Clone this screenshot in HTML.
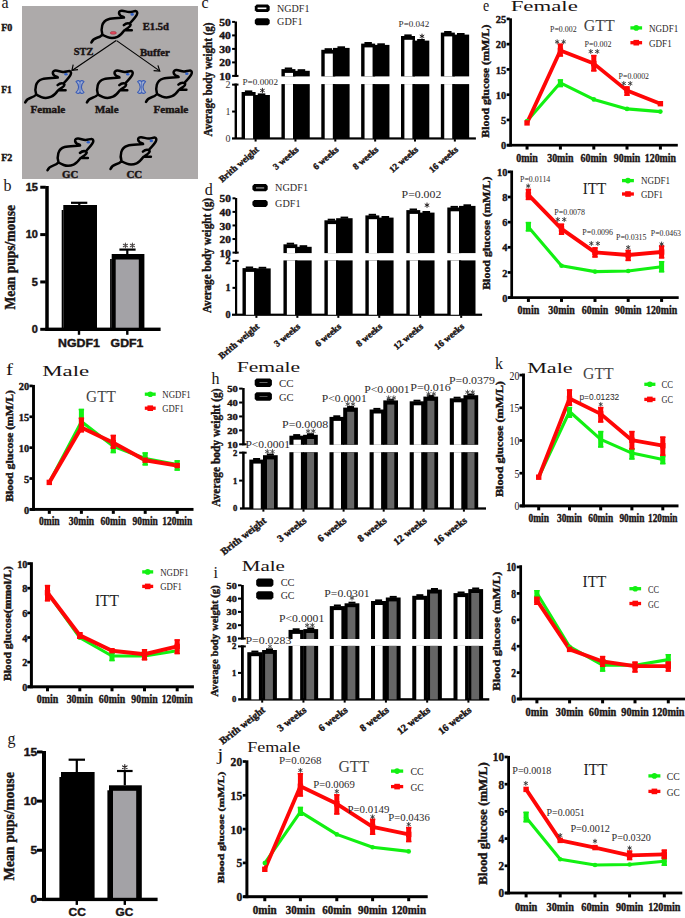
<!DOCTYPE html>
<html><head><meta charset="utf-8"><style>
html,body{margin:0;padding:0;background:#fff;}
body{width:685px;height:918px;overflow:hidden;}
svg{display:block;}
</style></head><body>
<svg width="685" height="918" viewBox="0 0 685 918">
<rect x="0" y="0" width="685" height="918" fill="#fff"/>
<text x="1.6" y="7.9" font-size="16" font-family='"Liberation Serif", serif' fill="#1a1414">a</text>
<rect x="22" y="6" width="176" height="173" fill="#adaaaa"/>
<text x="1.2" y="30.7" font-size="9.8" font-family='"Liberation Serif", serif' font-weight="bold" fill="#1a1414" stroke="#1a1414" stroke-width="0.4" textLength="11.2" lengthAdjust="spacingAndGlyphs">F0</text>
<text x="1.2" y="92.7" font-size="9.8" font-family='"Liberation Serif", serif' font-weight="bold" fill="#1a1414" stroke="#1a1414" stroke-width="0.4" textLength="10.6" lengthAdjust="spacingAndGlyphs">F1</text>
<text x="1.2" y="160.7" font-size="9.8" font-family='"Liberation Serif", serif' font-weight="bold" fill="#1a1414" stroke="#1a1414" stroke-width="0.4" textLength="11.2" lengthAdjust="spacingAndGlyphs">F2</text>
<path d="M91.4,42.5 C92.5,40 94.5,38.6 97,37.8 C99,37.2 101,36.2 102.4,34.6 C101.5,32 101.3,28.5 102.2,25.5 C103.2,22 105.5,20 108.5,19.2 C112,18.4 118,18.2 124,17.6 M123.6,17.0 C121.5,16.5 119.3,15.6 119.0,13.2 C118.9,11.5 120.3,10.6 122.0,10.7 C124.2,10.8 126.5,11.8 129.2,12.1 C131.5,12.3 133.6,11.0 135.6,11.1 C137.3,11.3 137.6,13.2 136.8,14.8 C136.0,16.6 133.5,19.5 130.0,23.2 M123.8,25.2 C125.5,23.6 128.3,23.0 130.2,23.8 C131.3,24.8 130.2,26.4 127.8,28.0 C126.2,29.0 124.8,29.9 124.6,30.3 L131.8,30.3 M124.4,30.3 C122.8,32.5 120.8,35.4 117.5,36.8 C114.5,38.1 110.5,38.3 107.6,37.2 C105.5,36.4 103.6,35.6 102.4,34.6" fill="none" stroke="#000" stroke-width="2.5" transform="translate(0 0)" stroke-linecap="round" stroke-linejoin="round"/>
<ellipse cx="132.2" cy="14.4" rx="1.7" ry="1.3" fill="#3060c8"/>
<ellipse cx="113.3" cy="32.9" rx="3.1" ry="1.45" fill="#e2465a" stroke="#7a2028" stroke-width="0.4"/>
<path d="M91.4,42.5 C92.5,40 94.5,38.6 97,37.8 C99,37.2 101,36.2 102.4,34.6 C101.5,32 101.3,28.5 102.2,25.5 C103.2,22 105.5,20 108.5,19.2 C112,18.4 118,18.2 124,17.6 M123.6,17.0 C121.5,16.5 119.3,15.6 119.0,13.2 C118.9,11.5 120.3,10.6 122.0,10.7 C124.2,10.8 126.5,11.8 129.2,12.1 C131.5,12.3 133.6,11.0 135.6,11.1 C137.3,11.3 137.6,13.2 136.8,14.8 C136.0,16.6 133.5,19.5 130.0,23.2 M123.8,25.2 C125.5,23.6 128.3,23.0 130.2,23.8 C131.3,24.8 130.2,26.4 127.8,28.0 C126.2,29.0 124.8,29.9 124.6,30.3 L131.8,30.3 M124.4,30.3 C122.8,32.5 120.8,35.4 117.5,36.8 C114.5,38.1 110.5,38.3 107.6,37.2 C105.5,36.4 103.6,35.6 102.4,34.6" fill="none" stroke="#000" stroke-width="2.5" transform="translate(-66.2 59.9)" stroke-linecap="round" stroke-linejoin="round"/>
<ellipse cx="66" cy="74.3" rx="1.7" ry="1.3" fill="#3060c8"/>
<path d="M91.4,42.5 C92.5,40 94.5,38.6 97,37.8 C99,37.2 101,36.2 102.4,34.6 C101.5,32 101.3,28.5 102.2,25.5 C103.2,22 105.5,20 108.5,19.2 C112,18.4 118,18.2 124,17.6 M123.6,17.0 C121.5,16.5 119.3,15.6 119.0,13.2 C118.9,11.5 120.3,10.6 122.0,10.7 C124.2,10.8 126.5,11.8 129.2,12.1 C131.5,12.3 133.6,11.0 135.6,11.1 C137.3,11.3 137.6,13.2 136.8,14.8 C136.0,16.6 133.5,19.5 130.0,23.2 M123.8,25.2 C125.5,23.6 128.3,23.0 130.2,23.8 C131.3,24.8 130.2,26.4 127.8,28.0 C126.2,29.0 124.8,29.9 124.6,30.3 L131.8,30.3 M124.4,30.3 C122.8,32.5 120.8,35.4 117.5,36.8 C114.5,38.1 110.5,38.3 107.6,37.2 C105.5,36.4 103.6,35.6 102.4,34.6" fill="none" stroke="#000" stroke-width="2.5" transform="translate(-4.5 59.9)" stroke-linecap="round" stroke-linejoin="round"/>
<ellipse cx="127.7" cy="74.3" rx="1.7" ry="1.3" fill="#3060c8"/>
<path d="M91.4,42.5 C92.5,40 94.5,38.6 97,37.8 C99,37.2 101,36.2 102.4,34.6 C101.5,32 101.3,28.5 102.2,25.5 C103.2,22 105.5,20 108.5,19.2 C112,18.4 118,18.2 124,17.6 M123.6,17.0 C121.5,16.5 119.3,15.6 119.0,13.2 C118.9,11.5 120.3,10.6 122.0,10.7 C124.2,10.8 126.5,11.8 129.2,12.1 C131.5,12.3 133.6,11.0 135.6,11.1 C137.3,11.3 137.6,13.2 136.8,14.8 C136.0,16.6 133.5,19.5 130.0,23.2 M123.8,25.2 C125.5,23.6 128.3,23.0 130.2,23.8 C131.3,24.8 130.2,26.4 127.8,28.0 C126.2,29.0 124.8,29.9 124.6,30.3 L131.8,30.3 M124.4,30.3 C122.8,32.5 120.8,35.4 117.5,36.8 C114.5,38.1 110.5,38.3 107.6,37.2 C105.5,36.4 103.6,35.6 102.4,34.6" fill="none" stroke="#000" stroke-width="2.5" transform="translate(54.6 59.4)" stroke-linecap="round" stroke-linejoin="round"/>
<ellipse cx="186.8" cy="73.8" rx="1.7" ry="1.3" fill="#3060c8"/>
<path d="M91.4,42.5 C92.5,40 94.5,38.6 97,37.8 C99,37.2 101,36.2 102.4,34.6 C101.5,32 101.3,28.5 102.2,25.5 C103.2,22 105.5,20 108.5,19.2 C112,18.4 118,18.2 124,17.6 M123.6,17.0 C121.5,16.5 119.3,15.6 119.0,13.2 C118.9,11.5 120.3,10.6 122.0,10.7 C124.2,10.8 126.5,11.8 129.2,12.1 C131.5,12.3 133.6,11.0 135.6,11.1 C137.3,11.3 137.6,13.2 136.8,14.8 C136.0,16.6 133.5,19.5 130.0,23.2 M123.8,25.2 C125.5,23.6 128.3,23.0 130.2,23.8 C131.3,24.8 130.2,26.4 127.8,28.0 C126.2,29.0 124.8,29.9 124.6,30.3 L131.8,30.3 M124.4,30.3 C122.8,32.5 120.8,35.4 117.5,36.8 C114.5,38.1 110.5,38.3 107.6,37.2 C105.5,36.4 103.6,35.6 102.4,34.6" fill="none" stroke="#000" stroke-width="2.5" transform="translate(-43.9 127.8)" stroke-linecap="round" stroke-linejoin="round"/>
<ellipse cx="88.3" cy="142.2" rx="1.7" ry="1.3" fill="#3060c8"/>
<path d="M91.4,42.5 C92.5,40 94.5,38.6 97,37.8 C99,37.2 101,36.2 102.4,34.6 C101.5,32 101.3,28.5 102.2,25.5 C103.2,22 105.5,20 108.5,19.2 C112,18.4 118,18.2 124,17.6 M123.6,17.0 C121.5,16.5 119.3,15.6 119.0,13.2 C118.9,11.5 120.3,10.6 122.0,10.7 C124.2,10.8 126.5,11.8 129.2,12.1 C131.5,12.3 133.6,11.0 135.6,11.1 C137.3,11.3 137.6,13.2 136.8,14.8 C136.0,16.6 133.5,19.5 130.0,23.2 M123.8,25.2 C125.5,23.6 128.3,23.0 130.2,23.8 C131.3,24.8 130.2,26.4 127.8,28.0 C126.2,29.0 124.8,29.9 124.6,30.3 L131.8,30.3 M124.4,30.3 C122.8,32.5 120.8,35.4 117.5,36.8 C114.5,38.1 110.5,38.3 107.6,37.2 C105.5,36.4 103.6,35.6 102.4,34.6" fill="none" stroke="#000" stroke-width="2.5" transform="translate(19.1 126.5)" stroke-linecap="round" stroke-linejoin="round"/>
<ellipse cx="151.3" cy="140.9" rx="1.7" ry="1.3" fill="#3060c8"/>
<line x1="116.2" y1="40.6" x2="72.4" y2="70.2" stroke="#000" stroke-width="1.15" stroke-linecap="butt"/>
<line x1="116.6" y1="40.6" x2="159.6" y2="70.9" stroke="#000" stroke-width="1.15" stroke-linecap="butt"/>
<path d="M73.2,64.6 L71.9,70.4 L78.0,69.6" fill="none" stroke="#000" stroke-width="1.15"/>
<path d="M153.6,70.6 L159.8,71.1 L157.9,65.4" fill="none" stroke="#000" stroke-width="1.15"/>
<path d="M76,81.6  C77.8,80 79.4,80.4 80,81.8  C80.6,80.4 82.2,80 84,81.6  C80.5,84.5 80.5,89.5 84,92.4  C82.2,94 80.6,93.6 80,92.2  C79.4,93.6 77.8,94 76,92.4  C79.5,89.5 79.5,84.5 76,81.6 Z" fill="#a3b0d2" stroke="#3a5cb6" stroke-width="1.15" stroke-linejoin="round"/>
<line x1="80" y1="82" x2="80" y2="92" stroke="#4a68b8" stroke-width="0.8" stroke-linecap="butt"/>
<path d="M137.6,81.6  C139.4,80 141,80.4 141.6,81.8  C142.2,80.4 143.8,80 145.6,81.6  C142.1,84.5 142.1,89.5 145.6,92.4  C143.8,94 142.2,93.6 141.6,92.2  C141,93.6 139.4,94 137.6,92.4  C141.1,89.5 141.1,84.5 137.6,81.6 Z" fill="#a3b0d2" stroke="#3a5cb6" stroke-width="1.15" stroke-linejoin="round"/>
<line x1="141.6" y1="82" x2="141.6" y2="92" stroke="#4a68b8" stroke-width="0.8" stroke-linecap="butt"/>
<text x="142.8" y="29.9" font-size="10" font-family='"Liberation Serif", serif' font-weight="bold" fill="#1a1414" stroke="#1a1414" stroke-width="0.4" textLength="26.2" lengthAdjust="spacingAndGlyphs">E1.5d</text>
<text x="73.7" y="55.2" font-size="10" font-family='"Liberation Serif", serif' font-weight="bold" fill="#1a1414" stroke="#1a1414" stroke-width="0.4" textLength="19.7" lengthAdjust="spacingAndGlyphs">STZ</text>
<text x="139.9" y="55.5" font-size="10" font-family='"Liberation Serif", serif' font-weight="bold" fill="#1a1414" stroke="#1a1414" stroke-width="0.4" textLength="29.9" lengthAdjust="spacingAndGlyphs">Buffer</text>
<text x="30.5" y="112.9" font-size="9.8" font-family='"Liberation Serif", serif' font-weight="bold" fill="#1a1414" stroke="#1a1414" stroke-width="0.4" textLength="34.7" lengthAdjust="spacingAndGlyphs">Female</text>
<text x="94.9" y="112.9" font-size="9.8" font-family='"Liberation Serif", serif' font-weight="bold" fill="#1a1414" stroke="#1a1414" stroke-width="0.4" textLength="23.6" lengthAdjust="spacingAndGlyphs">Male</text>
<text x="153.5" y="112.9" font-size="9.8" font-family='"Liberation Serif", serif' font-weight="bold" fill="#1a1414" stroke="#1a1414" stroke-width="0.4" textLength="34.8" lengthAdjust="spacingAndGlyphs">Female</text>
<text x="62" y="178" font-size="9.8" font-family='"Liberation Serif", serif' font-weight="bold" fill="#1a1414" stroke="#1a1414" stroke-width="0.4" textLength="16.2" lengthAdjust="spacingAndGlyphs">GC</text>
<text x="126.4" y="178" font-size="9.8" font-family='"Liberation Serif", serif' font-weight="bold" fill="#1a1414" stroke="#1a1414" stroke-width="0.4" textLength="15.8" lengthAdjust="spacingAndGlyphs">CC</text>
<text x="3.6" y="191" font-size="16" font-family='"Liberation Serif", serif' fill="#1a1414">b</text>
<rect x="45.25" y="186" width="3.5" height="144.9" fill="#000"/>
<rect x="45.25" y="327.6" width="115.35" height="3.4" fill="#000"/>
<rect x="40.25" y="327.8" width="5.5" height="3" fill="#000"/>
<text x="37.9" y="332.9" font-size="10" font-family='"Liberation Sans", sans-serif' font-weight="bold" fill="#1a1414" stroke="#1a1414" stroke-width="0.4" text-anchor="end" textLength="6.1" lengthAdjust="spacingAndGlyphs">0</text>
<rect x="40.25" y="280.45" width="5.5" height="3" fill="#000"/>
<text x="37.9" y="285.55" font-size="10" font-family='"Liberation Sans", sans-serif' font-weight="bold" fill="#1a1414" stroke="#1a1414" stroke-width="0.4" text-anchor="end" textLength="6.1" lengthAdjust="spacingAndGlyphs">5</text>
<rect x="40.25" y="233.1" width="5.5" height="3" fill="#000"/>
<text x="37.9" y="238.2" font-size="10" font-family='"Liberation Sans", sans-serif' font-weight="bold" fill="#1a1414" stroke="#1a1414" stroke-width="0.4" text-anchor="end" textLength="12.2" lengthAdjust="spacingAndGlyphs">10</text>
<rect x="40.25" y="185.75" width="5.5" height="3" fill="#000"/>
<text x="37.9" y="190.85" font-size="10" font-family='"Liberation Sans", sans-serif' font-weight="bold" fill="#1a1414" stroke="#1a1414" stroke-width="0.4" text-anchor="end" textLength="12.2" lengthAdjust="spacingAndGlyphs">15</text>
<rect x="63.3" y="205" width="33.7" height="124.3" fill="#000"/>
<rect x="61.7" y="210" width="1.7" height="119.3" fill="#000"/>
<rect x="111.7" y="254" width="32.7" height="75.3" fill="#000"/>
<rect x="110.1" y="259" width="1.7" height="70.3" fill="#000"/>
<rect x="115.7" y="259.5" width="23.1" height="68.2" fill="#a3a2a6"/>
<rect x="78.2" y="202.8" width="2.2" height="2.2" fill="#000"/>
<rect x="71" y="201.7" width="16.3" height="2.2" fill="#000"/>
<rect x="126.2" y="249.6" width="2.2" height="4.4" fill="#000"/>
<rect x="119.4" y="248.5" width="16.2" height="2.2" fill="#000"/>
<rect x="77.8" y="329.3" width="2.4" height="5.5" fill="#000"/>
<rect x="126.1" y="329.3" width="2.4" height="5.5" fill="#000"/>
<text x="58" y="346.6" font-size="10.5" font-family='"Liberation Sans", sans-serif' font-weight="bold" fill="#1a1414" stroke="#1a1414" stroke-width="0.4" textLength="41.8" lengthAdjust="spacingAndGlyphs">NGDF1</text>
<text x="110.6" y="346.6" font-size="10.5" font-family='"Liberation Sans", sans-serif' font-weight="bold" fill="#1a1414" stroke="#1a1414" stroke-width="0.4" textLength="32.8" lengthAdjust="spacingAndGlyphs">GDF1</text>
<text transform="translate(14.8 257.3) rotate(-90)" font-size="15" font-family='"Liberation Serif", serif' font-weight="bold" fill="#1a1414" stroke="#1a1414" stroke-width="0.4" text-anchor="middle" textLength="104.6" lengthAdjust="spacingAndGlyphs">Mean pups/mouse</text>
<path d="M125.4,243.1L125.4,247.9M123.32,244.3L127.48,246.7M127.48,244.3L123.32,246.7" stroke="#4a4545" stroke-width="1.02" stroke-linecap="round"/>
<path d="M132.4,243.1L132.4,247.9M130.32,244.3L134.48,246.7M134.48,244.3L130.32,246.7" stroke="#4a4545" stroke-width="1.02" stroke-linecap="round"/>
<text x="7.5" y="743.5" font-size="16" font-family='"Liberation Serif", serif' fill="#1a1414">g</text>
<rect x="42" y="751" width="4" height="150" fill="#000"/>
<rect x="42" y="897.7" width="115.6" height="3.4" fill="#000"/>
<rect x="37" y="897.9" width="5.5" height="3" fill="#000"/>
<text x="37.2" y="903" font-size="10" font-family='"Liberation Sans", sans-serif' font-weight="bold" fill="#1a1414" stroke="#1a1414" stroke-width="0.4" text-anchor="end" textLength="6.7" lengthAdjust="spacingAndGlyphs">0</text>
<rect x="37" y="848.75" width="5.5" height="3" fill="#000"/>
<text x="37.2" y="853.85" font-size="10" font-family='"Liberation Sans", sans-serif' font-weight="bold" fill="#1a1414" stroke="#1a1414" stroke-width="0.4" text-anchor="end" textLength="6.7" lengthAdjust="spacingAndGlyphs">5</text>
<rect x="37" y="799.6" width="5.5" height="3" fill="#000"/>
<text x="37.2" y="804.7" font-size="10" font-family='"Liberation Sans", sans-serif' font-weight="bold" fill="#1a1414" stroke="#1a1414" stroke-width="0.4" text-anchor="end" textLength="13.4" lengthAdjust="spacingAndGlyphs">10</text>
<rect x="37" y="750.45" width="5.5" height="3" fill="#000"/>
<text x="37.2" y="755.55" font-size="10" font-family='"Liberation Sans", sans-serif' font-weight="bold" fill="#1a1414" stroke="#1a1414" stroke-width="0.4" text-anchor="end" textLength="13.4" lengthAdjust="spacingAndGlyphs">15</text>
<rect x="61" y="772" width="33.6" height="127.4" fill="#000"/>
<rect x="59.4" y="777" width="1.7" height="122.4" fill="#000"/>
<rect x="109" y="785.3" width="32.8" height="114.1" fill="#000"/>
<rect x="107.4" y="790.3" width="1.7" height="109.1" fill="#000"/>
<rect x="113" y="790.8" width="23.2" height="107" fill="#a3a2a6"/>
<rect x="75.7" y="759.7" width="2.2" height="12.3" fill="#000"/>
<rect x="68.6" y="758.6" width="16.4" height="2.2" fill="#000"/>
<rect x="123.7" y="771" width="2.2" height="14.3" fill="#000"/>
<rect x="117" y="769.9" width="15.6" height="2.2" fill="#000"/>
<rect x="75.6" y="899.4" width="2.4" height="5.5" fill="#000"/>
<rect x="123.6" y="899.4" width="2.4" height="5.5" fill="#000"/>
<text x="68.6" y="916.4" font-size="10.5" font-family='"Liberation Sans", sans-serif' font-weight="bold" fill="#1a1414" stroke="#1a1414" stroke-width="0.4" textLength="17.4" lengthAdjust="spacingAndGlyphs">CC</text>
<text x="115.6" y="916.4" font-size="10.5" font-family='"Liberation Sans", sans-serif' font-weight="bold" fill="#1a1414" stroke="#1a1414" stroke-width="0.4" textLength="17.8" lengthAdjust="spacingAndGlyphs">GC</text>
<text transform="translate(13.8 826.3) rotate(-90)" font-size="15.5" font-family='"Liberation Serif", serif' font-weight="bold" fill="#1a1414" stroke="#1a1414" stroke-width="0.4" text-anchor="middle" textLength="108.5" lengthAdjust="spacingAndGlyphs">Mean pups/mouse</text>
<path d="M124.8,764.6L124.8,769.8M122.55,765.9L127.05,768.5M127.05,765.9L122.55,768.5" stroke="#2a2525" stroke-width="1.1" stroke-linecap="round"/>
<text x="201.4" y="7.6" font-size="16" font-family='"Liberation Serif", serif' fill="#1a1414">c</text>
<rect x="234.6" y="21.5" width="2.4" height="55.4" fill="#000"/>
<rect x="234.6" y="83.6" width="2.4" height="54.85" fill="#000"/>
<rect x="232.1" y="74.9" width="3" height="2" fill="#000"/>
<text x="230.9" y="79.97" font-size="10.2" font-family='"Liberation Serif", serif' font-weight="bold" fill="#1a1414" stroke="#1a1414" stroke-width="0.4" text-anchor="end" textLength="11.6" lengthAdjust="spacingAndGlyphs">10</text>
<rect x="232.1" y="61.4" width="3" height="2" fill="#000"/>
<text x="230.9" y="66.47" font-size="10.2" font-family='"Liberation Serif", serif' font-weight="bold" fill="#1a1414" stroke="#1a1414" stroke-width="0.4" text-anchor="end" textLength="11.6" lengthAdjust="spacingAndGlyphs">20</text>
<rect x="232.1" y="47.9" width="3" height="2" fill="#000"/>
<text x="230.9" y="52.97" font-size="10.2" font-family='"Liberation Serif", serif' font-weight="bold" fill="#1a1414" stroke="#1a1414" stroke-width="0.4" text-anchor="end" textLength="11.6" lengthAdjust="spacingAndGlyphs">30</text>
<rect x="232.1" y="34.4" width="3" height="2" fill="#000"/>
<text x="230.9" y="39.47" font-size="10.2" font-family='"Liberation Serif", serif' font-weight="bold" fill="#1a1414" stroke="#1a1414" stroke-width="0.4" text-anchor="end" textLength="11.6" lengthAdjust="spacingAndGlyphs">40</text>
<rect x="232.1" y="20.9" width="3" height="2" fill="#000"/>
<text x="230.9" y="25.97" font-size="10.2" font-family='"Liberation Serif", serif' font-weight="bold" fill="#1a1414" stroke="#1a1414" stroke-width="0.4" text-anchor="end" textLength="11.6" lengthAdjust="spacingAndGlyphs">50</text>
<rect x="234.6" y="74.9" width="3.9" height="2" fill="#000"/>
<rect x="234.6" y="83.6" width="3.9" height="2" fill="#000"/>
<text x="230.6" y="141.85" font-size="10" font-family='"Liberation Serif", serif' fill="#3a3535" text-anchor="end">0</text>
<rect x="232.1" y="110.55" width="3" height="2" fill="#000"/>
<text x="230.6" y="114.95" font-size="10" font-family='"Liberation Serif", serif' fill="#3a3535" text-anchor="end">1</text>
<rect x="232.1" y="83.65" width="3" height="2" fill="#000"/>
<text x="230.6" y="88.05" font-size="10" font-family='"Liberation Serif", serif' fill="#3a3535" text-anchor="end">2</text>
<rect x="232" y="137.35" width="243.9" height="2.2" fill="#000"/>
<rect x="241.6" y="92" width="14" height="46.45" fill="#000"/>
<rect x="245" y="95.8" width="8.2" height="42.65" fill="#fff"/>
<rect x="244.9" y="90.4" width="7.4" height="2" fill="#000"/>
<rect x="253.2" y="95" width="16.7" height="43.45" fill="#000"/>
<rect x="257.75" y="93.4" width="7.6" height="2" fill="#000"/>
<rect x="254.6" y="139.05" width="2" height="2.5" fill="#000"/>
<rect x="281.45" y="69.1" width="14" height="7.3" fill="#000"/>
<rect x="284.85" y="72.9" width="8.2" height="3.5" fill="#fff"/>
<rect x="281.45" y="84.1" width="14" height="54.35" fill="#000"/>
<rect x="284.85" y="84.1" width="8.2" height="54.35" fill="#fff"/>
<rect x="284.75" y="67.5" width="7.4" height="2" fill="#000"/>
<rect x="293.05" y="70.8" width="16.7" height="5.6" fill="#000"/>
<rect x="293.05" y="84.1" width="16.7" height="54.35" fill="#000"/>
<rect x="297.6" y="69.2" width="7.6" height="2" fill="#000"/>
<rect x="294.45" y="139.05" width="2" height="2.5" fill="#000"/>
<rect x="321.3" y="49.8" width="14" height="26.6" fill="#000"/>
<rect x="324.7" y="53.6" width="8.2" height="22.8" fill="#fff"/>
<rect x="321.3" y="84.1" width="14" height="54.35" fill="#000"/>
<rect x="324.7" y="84.1" width="8.2" height="54.35" fill="#fff"/>
<rect x="324.6" y="48.2" width="7.4" height="2" fill="#000"/>
<rect x="332.9" y="47.9" width="16.7" height="28.5" fill="#000"/>
<rect x="332.9" y="84.1" width="16.7" height="54.35" fill="#000"/>
<rect x="337.45" y="46.3" width="7.6" height="2" fill="#000"/>
<rect x="334.3" y="139.05" width="2" height="2.5" fill="#000"/>
<rect x="361.15" y="43.6" width="14" height="32.8" fill="#000"/>
<rect x="364.55" y="47.4" width="8.2" height="29" fill="#fff"/>
<rect x="361.15" y="84.1" width="14" height="54.35" fill="#000"/>
<rect x="364.55" y="84.1" width="8.2" height="54.35" fill="#fff"/>
<rect x="364.45" y="42" width="7.4" height="2" fill="#000"/>
<rect x="372.75" y="44.9" width="16.7" height="31.5" fill="#000"/>
<rect x="372.75" y="84.1" width="16.7" height="54.35" fill="#000"/>
<rect x="377.3" y="43.3" width="7.6" height="2" fill="#000"/>
<rect x="374.15" y="139.05" width="2" height="2.5" fill="#000"/>
<rect x="401" y="36" width="14" height="40.4" fill="#000"/>
<rect x="404.4" y="39.8" width="8.2" height="36.6" fill="#fff"/>
<rect x="401" y="84.1" width="14" height="54.35" fill="#000"/>
<rect x="404.4" y="84.1" width="8.2" height="54.35" fill="#fff"/>
<rect x="404.3" y="34.4" width="7.4" height="2" fill="#000"/>
<rect x="412.6" y="40.6" width="16.7" height="35.8" fill="#000"/>
<rect x="412.6" y="84.1" width="16.7" height="54.35" fill="#000"/>
<rect x="417.15" y="39" width="7.6" height="2" fill="#000"/>
<rect x="414" y="139.05" width="2" height="2.5" fill="#000"/>
<rect x="440.85" y="32.6" width="14" height="43.8" fill="#000"/>
<rect x="444.25" y="36.4" width="8.2" height="40" fill="#fff"/>
<rect x="440.85" y="84.1" width="14" height="54.35" fill="#000"/>
<rect x="444.25" y="84.1" width="8.2" height="54.35" fill="#fff"/>
<rect x="444.15" y="31" width="7.4" height="2" fill="#000"/>
<rect x="452.45" y="34.6" width="16.7" height="41.8" fill="#000"/>
<rect x="452.45" y="84.1" width="16.7" height="54.35" fill="#000"/>
<rect x="457" y="33" width="7.6" height="2" fill="#000"/>
<rect x="453.85" y="139.05" width="2" height="2.5" fill="#000"/>
<path d="M256.6,4.6 L267.9,4.6 L269.7,6.4 L269.7,10.3 L267.9,12.1 L256.6,12.1 L254.8,10.3 L254.8,6.4 Z" fill="#000"/>
<rect x="257.6" y="7.5" width="8.8" height="1.6" fill="#fff"/>
<path d="M256.6,18.2 L267.9,18.2 L269.7,20 L269.7,23.4 L267.9,25.2 L256.6,25.2 L254.8,23.4 L254.8,20 Z" fill="#000"/>
<text x="277.1" y="11.7" font-size="9.8" font-family='"Liberation Serif", serif' fill="#2e2a2a" textLength="32.4" lengthAdjust="spacingAndGlyphs">NGDF1</text>
<text x="277.1" y="24.9" font-size="9.8" font-family='"Liberation Serif", serif' fill="#2e2a2a" textLength="25.4" lengthAdjust="spacingAndGlyphs">GDF1</text>
<text x="242.5" y="84.7" font-size="8.8" font-family='"Liberation Serif", serif' fill="#2e2a2a" textLength="35.5" lengthAdjust="spacingAndGlyphs">P=0.0002</text>
<text x="398.6" y="26.6" font-size="8.8" font-family='"Liberation Serif", serif' fill="#2e2a2a" textLength="30.6" lengthAdjust="spacingAndGlyphs">P=0.042</text>
<path d="M262.4,88.3L262.4,92.7M260.49,89.4L264.31,91.6M264.31,89.4L260.49,91.6" stroke="#1a1414" stroke-width="0.94" stroke-linecap="round"/>
<path d="M422,34.1L422,38.5M420.09,35.2L423.91,37.4M423.91,35.2L420.09,37.4" stroke="#1a1414" stroke-width="0.94" stroke-linecap="round"/>
<text transform="translate(211.8 79.5) rotate(-90)" font-size="11.5" font-family='"Liberation Serif", serif' font-weight="bold" fill="#1a1414" stroke="#1a1414" stroke-width="0.4" text-anchor="middle" textLength="114" lengthAdjust="spacingAndGlyphs">Average body weight (g)</text>
<text transform="translate(259.4 150.4) rotate(-41)" font-size="9.2" font-family='"Liberation Serif", serif' font-weight="bold" fill="#1a1414" stroke="#1a1414" stroke-width="0.4" text-anchor="end" textLength="49.32" lengthAdjust="spacingAndGlyphs">Brith weight</text>
<text transform="translate(299.25 150.4) rotate(-41)" font-size="9.2" font-family='"Liberation Serif", serif' font-weight="bold" fill="#1a1414" stroke="#1a1414" stroke-width="0.4" text-anchor="end" textLength="30.41" lengthAdjust="spacingAndGlyphs">3 weeks</text>
<text transform="translate(339.1 150.4) rotate(-41)" font-size="9.2" font-family='"Liberation Serif", serif' font-weight="bold" fill="#1a1414" stroke="#1a1414" stroke-width="0.4" text-anchor="end" textLength="30.41" lengthAdjust="spacingAndGlyphs">6 weeks</text>
<text transform="translate(378.95 150.4) rotate(-41)" font-size="9.2" font-family='"Liberation Serif", serif' font-weight="bold" fill="#1a1414" stroke="#1a1414" stroke-width="0.4" text-anchor="end" textLength="30.41" lengthAdjust="spacingAndGlyphs">8 weeks</text>
<text transform="translate(418.8 150.4) rotate(-41)" font-size="9.2" font-family='"Liberation Serif", serif' font-weight="bold" fill="#1a1414" stroke="#1a1414" stroke-width="0.4" text-anchor="end" textLength="35.01" lengthAdjust="spacingAndGlyphs">12 weeks</text>
<text transform="translate(458.65 150.4) rotate(-41)" font-size="9.2" font-family='"Liberation Serif", serif' font-weight="bold" fill="#1a1414" stroke="#1a1414" stroke-width="0.4" text-anchor="end" textLength="35.01" lengthAdjust="spacingAndGlyphs">16 weeks</text>
<text x="204.7" y="194.9" font-size="16" font-family='"Liberation Serif", serif' fill="#1a1414">d</text>
<rect x="235" y="198" width="2.2" height="55.6" fill="#000"/>
<rect x="235" y="259.9" width="2.2" height="54.85" fill="#000"/>
<rect x="232.5" y="251.6" width="3" height="2" fill="#000"/>
<text x="230.9" y="256.67" font-size="10.2" font-family='"Liberation Serif", serif' font-weight="bold" fill="#1a1414" stroke="#1a1414" stroke-width="0.4" text-anchor="end" textLength="11.4" lengthAdjust="spacingAndGlyphs">10</text>
<rect x="232.5" y="238.03" width="3" height="2" fill="#000"/>
<text x="230.9" y="243.09" font-size="10.2" font-family='"Liberation Serif", serif' font-weight="bold" fill="#1a1414" stroke="#1a1414" stroke-width="0.4" text-anchor="end" textLength="11.4" lengthAdjust="spacingAndGlyphs">20</text>
<rect x="232.5" y="224.45" width="3" height="2" fill="#000"/>
<text x="230.9" y="229.52" font-size="10.2" font-family='"Liberation Serif", serif' font-weight="bold" fill="#1a1414" stroke="#1a1414" stroke-width="0.4" text-anchor="end" textLength="11.4" lengthAdjust="spacingAndGlyphs">30</text>
<rect x="232.5" y="210.88" width="3" height="2" fill="#000"/>
<text x="230.9" y="215.94" font-size="10.2" font-family='"Liberation Serif", serif' font-weight="bold" fill="#1a1414" stroke="#1a1414" stroke-width="0.4" text-anchor="end" textLength="11.4" lengthAdjust="spacingAndGlyphs">40</text>
<rect x="232.5" y="197.3" width="3" height="2" fill="#000"/>
<text x="230.9" y="202.37" font-size="10.2" font-family='"Liberation Serif", serif' font-weight="bold" fill="#1a1414" stroke="#1a1414" stroke-width="0.4" text-anchor="end" textLength="11.4" lengthAdjust="spacingAndGlyphs">50</text>
<rect x="235" y="251.6" width="3.7" height="2" fill="#000"/>
<rect x="235" y="259.9" width="3.7" height="2" fill="#000"/>
<text x="230.6" y="318.22" font-size="10.2" font-family='"Liberation Serif", serif' font-weight="bold" fill="#1a1414" stroke="#1a1414" stroke-width="0.4" text-anchor="end">0</text>
<rect x="232.5" y="286.85" width="3" height="2" fill="#000"/>
<text x="230.6" y="291.32" font-size="10.2" font-family='"Liberation Serif", serif' font-weight="bold" fill="#1a1414" stroke="#1a1414" stroke-width="0.4" text-anchor="end">1</text>
<rect x="232.5" y="259.95" width="3" height="2" fill="#000"/>
<text x="230.6" y="264.42" font-size="10.2" font-family='"Liberation Serif", serif' font-weight="bold" fill="#1a1414" stroke="#1a1414" stroke-width="0.4" text-anchor="end">2</text>
<rect x="232" y="313.65" width="250.1" height="2.2" fill="#000"/>
<rect x="242.5" y="268.1" width="13.9" height="46.65" fill="#000"/>
<rect x="245.9" y="271.9" width="8.3" height="42.85" fill="#fff"/>
<rect x="245.75" y="266.5" width="7.4" height="2" fill="#000"/>
<rect x="254.2" y="268.4" width="16.5" height="46.35" fill="#000"/>
<rect x="258.65" y="266.8" width="7.6" height="2" fill="#000"/>
<rect x="255.4" y="315.35" width="2" height="2.5" fill="#000"/>
<rect x="283.46" y="244.3" width="13.9" height="8.8" fill="#000"/>
<rect x="286.86" y="248.1" width="8.3" height="5" fill="#fff"/>
<rect x="283.46" y="260.4" width="13.9" height="54.35" fill="#000"/>
<rect x="286.86" y="260.4" width="8.3" height="54.35" fill="#fff"/>
<rect x="286.71" y="242.7" width="7.4" height="2" fill="#000"/>
<rect x="295.16" y="246.8" width="16.5" height="6.3" fill="#000"/>
<rect x="295.16" y="260.4" width="16.5" height="54.35" fill="#000"/>
<rect x="299.61" y="245.2" width="7.6" height="2" fill="#000"/>
<rect x="296.36" y="315.35" width="2" height="2.5" fill="#000"/>
<rect x="324.42" y="220.3" width="13.9" height="32.8" fill="#000"/>
<rect x="327.82" y="224.1" width="8.3" height="29" fill="#fff"/>
<rect x="324.42" y="260.4" width="13.9" height="54.35" fill="#000"/>
<rect x="327.82" y="260.4" width="8.3" height="54.35" fill="#fff"/>
<rect x="327.67" y="218.7" width="7.4" height="2" fill="#000"/>
<rect x="336.12" y="218.2" width="16.5" height="34.9" fill="#000"/>
<rect x="336.12" y="260.4" width="16.5" height="54.35" fill="#000"/>
<rect x="340.57" y="216.6" width="7.6" height="2" fill="#000"/>
<rect x="337.32" y="315.35" width="2" height="2.5" fill="#000"/>
<rect x="365.38" y="215.4" width="13.9" height="37.7" fill="#000"/>
<rect x="368.78" y="219.2" width="8.3" height="33.9" fill="#fff"/>
<rect x="365.38" y="260.4" width="13.9" height="54.35" fill="#000"/>
<rect x="368.78" y="260.4" width="8.3" height="54.35" fill="#fff"/>
<rect x="368.63" y="213.8" width="7.4" height="2" fill="#000"/>
<rect x="377.08" y="217.6" width="16.5" height="35.5" fill="#000"/>
<rect x="377.08" y="260.4" width="16.5" height="54.35" fill="#000"/>
<rect x="381.53" y="216" width="7.6" height="2" fill="#000"/>
<rect x="378.28" y="315.35" width="2" height="2.5" fill="#000"/>
<rect x="406.34" y="210.1" width="13.9" height="43" fill="#000"/>
<rect x="409.74" y="213.9" width="8.3" height="39.2" fill="#fff"/>
<rect x="406.34" y="260.4" width="13.9" height="54.35" fill="#000"/>
<rect x="409.74" y="260.4" width="8.3" height="54.35" fill="#fff"/>
<rect x="409.59" y="208.5" width="7.4" height="2" fill="#000"/>
<rect x="418.04" y="212.6" width="16.5" height="40.5" fill="#000"/>
<rect x="418.04" y="260.4" width="16.5" height="54.35" fill="#000"/>
<rect x="422.49" y="211" width="7.6" height="2" fill="#000"/>
<rect x="419.24" y="315.35" width="2" height="2.5" fill="#000"/>
<rect x="447.3" y="207.5" width="13.9" height="45.6" fill="#000"/>
<rect x="450.7" y="211.3" width="8.3" height="41.8" fill="#fff"/>
<rect x="447.3" y="260.4" width="13.9" height="54.35" fill="#000"/>
<rect x="450.7" y="260.4" width="8.3" height="54.35" fill="#fff"/>
<rect x="450.55" y="205.9" width="7.4" height="2" fill="#000"/>
<rect x="459" y="205.9" width="16.5" height="47.2" fill="#000"/>
<rect x="459" y="260.4" width="16.5" height="54.35" fill="#000"/>
<rect x="463.45" y="204.3" width="7.6" height="2" fill="#000"/>
<rect x="460.2" y="315.35" width="2" height="2.5" fill="#000"/>
<path d="M254.2,184.1 L265.9,184.1 L267.7,185.9 L267.7,189.4 L265.9,191.2 L254.2,191.2 L252.4,189.4 L252.4,185.9 Z" fill="#000"/>
<rect x="256" y="187.2" width="8.2" height="1.4" fill="#8a8a8a"/>
<path d="M254.2,199.9 L265.9,199.9 L267.7,201.7 L267.7,205.1 L265.9,206.9 L254.2,206.9 L252.4,205.1 L252.4,201.7 Z" fill="#000"/>
<text x="275.1" y="190.8" font-size="9.8" font-family='"Liberation Serif", serif' fill="#2e2a2a" textLength="32.9" lengthAdjust="spacingAndGlyphs">NGDF1</text>
<text x="275.1" y="206.6" font-size="9.8" font-family='"Liberation Serif", serif' fill="#2e2a2a" textLength="25.4" lengthAdjust="spacingAndGlyphs">GDF1</text>
<text x="401.6" y="197.6" font-size="11" font-family='"Liberation Serif", serif' fill="#2e2a2a" textLength="39.7" lengthAdjust="spacingAndGlyphs">P=0.002</text>
<path d="M427,203L427,207.4M425.09,204.1L428.91,206.3M428.91,204.1L425.09,206.3" stroke="#1a1414" stroke-width="0.94" stroke-linecap="round"/>
<text transform="translate(211.4 255.6) rotate(-90)" font-size="11.5" font-family='"Liberation Serif", serif' font-weight="bold" fill="#1a1414" stroke="#1a1414" stroke-width="0.4" text-anchor="middle" textLength="115" lengthAdjust="spacingAndGlyphs">Average body weight (g)</text>
<text transform="translate(259.9 327.5) rotate(-40)" font-size="9.3" font-family='"Liberation Serif", serif' font-weight="bold" fill="#1a1414" stroke="#1a1414" stroke-width="0.4" text-anchor="end" textLength="49.86" lengthAdjust="spacingAndGlyphs">Brith weight</text>
<text transform="translate(300.86 327.5) rotate(-40)" font-size="9.3" font-family='"Liberation Serif", serif' font-weight="bold" fill="#1a1414" stroke="#1a1414" stroke-width="0.4" text-anchor="end" textLength="30.74" lengthAdjust="spacingAndGlyphs">3 weeks</text>
<text transform="translate(341.82 327.5) rotate(-40)" font-size="9.3" font-family='"Liberation Serif", serif' font-weight="bold" fill="#1a1414" stroke="#1a1414" stroke-width="0.4" text-anchor="end" textLength="30.74" lengthAdjust="spacingAndGlyphs">6 weeks</text>
<text transform="translate(382.78 327.5) rotate(-40)" font-size="9.3" font-family='"Liberation Serif", serif' font-weight="bold" fill="#1a1414" stroke="#1a1414" stroke-width="0.4" text-anchor="end" textLength="30.74" lengthAdjust="spacingAndGlyphs">8 weeks</text>
<text transform="translate(423.74 327.5) rotate(-40)" font-size="9.3" font-family='"Liberation Serif", serif' font-weight="bold" fill="#1a1414" stroke="#1a1414" stroke-width="0.4" text-anchor="end" textLength="35.39" lengthAdjust="spacingAndGlyphs">12 weeks</text>
<text transform="translate(464.7 327.5) rotate(-40)" font-size="9.3" font-family='"Liberation Serif", serif' font-weight="bold" fill="#1a1414" stroke="#1a1414" stroke-width="0.4" text-anchor="end" textLength="35.39" lengthAdjust="spacingAndGlyphs">16 weeks</text>
<text x="236.7" y="372" font-size="15" font-family='"Liberation Serif", serif' fill="#1a1414" textLength="63.5" lengthAdjust="spacingAndGlyphs">Female</text>
<text x="211.4" y="383.8" font-size="16" font-family='"Liberation Serif", serif' fill="#1a1414">h</text>
<rect x="242.15" y="388" width="2.5" height="57.3" fill="#000"/>
<rect x="242.15" y="451.7" width="2.5" height="56.8" fill="#000"/>
<rect x="239.15" y="443.3" width="3.5" height="2" fill="#000"/>
<text x="237.8" y="447.82" font-size="8.6" font-family='"Liberation Serif", serif' font-weight="bold" fill="#1a1414" stroke="#1a1414" stroke-width="0.4" text-anchor="end" textLength="10.5" lengthAdjust="spacingAndGlyphs">10</text>
<rect x="239.15" y="429.38" width="3.5" height="2" fill="#000"/>
<text x="237.8" y="433.9" font-size="8.6" font-family='"Liberation Serif", serif' font-weight="bold" fill="#1a1414" stroke="#1a1414" stroke-width="0.4" text-anchor="end" textLength="10.5" lengthAdjust="spacingAndGlyphs">20</text>
<rect x="239.15" y="415.45" width="3.5" height="2" fill="#000"/>
<text x="237.8" y="419.97" font-size="8.6" font-family='"Liberation Serif", serif' font-weight="bold" fill="#1a1414" stroke="#1a1414" stroke-width="0.4" text-anchor="end" textLength="10.5" lengthAdjust="spacingAndGlyphs">30</text>
<rect x="239.15" y="401.52" width="3.5" height="2" fill="#000"/>
<text x="237.8" y="406.05" font-size="8.6" font-family='"Liberation Serif", serif' font-weight="bold" fill="#1a1414" stroke="#1a1414" stroke-width="0.4" text-anchor="end" textLength="10.5" lengthAdjust="spacingAndGlyphs">40</text>
<rect x="239.15" y="387.6" width="3.5" height="2" fill="#000"/>
<text x="237.8" y="392.12" font-size="8.6" font-family='"Liberation Serif", serif' font-weight="bold" fill="#1a1414" stroke="#1a1414" stroke-width="0.4" text-anchor="end" textLength="10.5" lengthAdjust="spacingAndGlyphs">50</text>
<rect x="242.15" y="443.3" width="4.5" height="2" fill="#000"/>
<rect x="242.15" y="451.7" width="4.5" height="2" fill="#000"/>
<text x="237.2" y="511.42" font-size="8.6" font-family='"Liberation Serif", serif' font-weight="bold" fill="#1a1414" stroke="#1a1414" stroke-width="0.4" text-anchor="end">0</text>
<rect x="239.15" y="479.6" width="3.5" height="2" fill="#000"/>
<text x="237.2" y="483.52" font-size="8.6" font-family='"Liberation Serif", serif' font-weight="bold" fill="#1a1414" stroke="#1a1414" stroke-width="0.4" text-anchor="end">1</text>
<rect x="239.15" y="451.7" width="3.5" height="2" fill="#000"/>
<text x="237.2" y="455.62" font-size="8.6" font-family='"Liberation Serif", serif' font-weight="bold" fill="#1a1414" stroke="#1a1414" stroke-width="0.4" text-anchor="end">2</text>
<rect x="239.95" y="507.35" width="246.05" height="2.3" fill="#000"/>
<rect x="249.3" y="459.6" width="14.6" height="48.9" fill="#000"/>
<rect x="253.4" y="463.6" width="7.4" height="44.9" fill="#fff"/>
<rect x="253.1" y="458" width="7" height="2" fill="#000"/>
<rect x="263" y="455.2" width="14.7" height="53.3" fill="#000"/>
<rect x="267" y="459.4" width="7" height="49.1" fill="#666666"/>
<rect x="266.85" y="453.6" width="7" height="2" fill="#000"/>
<rect x="262.4" y="509.15" width="2" height="2.5" fill="#000"/>
<rect x="289.4" y="435.7" width="14.6" height="9.1" fill="#000"/>
<rect x="293.5" y="439.7" width="7.4" height="5.1" fill="#fff"/>
<rect x="289.4" y="452.2" width="14.6" height="56.3" fill="#000"/>
<rect x="293.5" y="452.2" width="7.4" height="56.3" fill="#fff"/>
<rect x="293.2" y="434.1" width="7" height="2" fill="#000"/>
<rect x="303.1" y="434.8" width="14.7" height="10" fill="#000"/>
<rect x="307.1" y="439" width="7" height="5.8" fill="#666666"/>
<rect x="303.1" y="452.2" width="14.7" height="56.3" fill="#000"/>
<rect x="307.1" y="452.2" width="7" height="56.3" fill="#666666"/>
<rect x="306.95" y="433.2" width="7" height="2" fill="#000"/>
<rect x="302.5" y="509.15" width="2" height="2.5" fill="#000"/>
<rect x="329.5" y="416.9" width="14.6" height="27.9" fill="#000"/>
<rect x="333.6" y="420.9" width="7.4" height="23.9" fill="#fff"/>
<rect x="329.5" y="452.2" width="14.6" height="56.3" fill="#000"/>
<rect x="333.6" y="452.2" width="7.4" height="56.3" fill="#fff"/>
<rect x="333.3" y="415.3" width="7" height="2" fill="#000"/>
<rect x="343.2" y="407.6" width="14.7" height="37.2" fill="#000"/>
<rect x="347.2" y="411.8" width="7" height="33" fill="#666666"/>
<rect x="343.2" y="452.2" width="14.7" height="56.3" fill="#000"/>
<rect x="347.2" y="452.2" width="7" height="56.3" fill="#666666"/>
<rect x="347.05" y="406" width="7" height="2" fill="#000"/>
<rect x="342.6" y="509.15" width="2" height="2.5" fill="#000"/>
<rect x="369.6" y="409.5" width="14.6" height="35.3" fill="#000"/>
<rect x="373.7" y="413.5" width="7.4" height="31.3" fill="#fff"/>
<rect x="369.6" y="452.2" width="14.6" height="56.3" fill="#000"/>
<rect x="373.7" y="452.2" width="7.4" height="56.3" fill="#fff"/>
<rect x="373.4" y="407.9" width="7" height="2" fill="#000"/>
<rect x="383.3" y="400.4" width="14.7" height="44.4" fill="#000"/>
<rect x="387.3" y="404.6" width="7" height="40.2" fill="#666666"/>
<rect x="383.3" y="452.2" width="14.7" height="56.3" fill="#000"/>
<rect x="387.3" y="452.2" width="7" height="56.3" fill="#666666"/>
<rect x="387.15" y="398.8" width="7" height="2" fill="#000"/>
<rect x="382.7" y="509.15" width="2" height="2.5" fill="#000"/>
<rect x="409.7" y="401.3" width="14.6" height="43.5" fill="#000"/>
<rect x="413.8" y="405.3" width="7.4" height="39.5" fill="#fff"/>
<rect x="409.7" y="452.2" width="14.6" height="56.3" fill="#000"/>
<rect x="413.8" y="452.2" width="7.4" height="56.3" fill="#fff"/>
<rect x="413.5" y="399.7" width="7" height="2" fill="#000"/>
<rect x="423.4" y="396.6" width="14.7" height="48.2" fill="#000"/>
<rect x="427.4" y="400.8" width="7" height="44" fill="#666666"/>
<rect x="423.4" y="452.2" width="14.7" height="56.3" fill="#000"/>
<rect x="427.4" y="452.2" width="7" height="56.3" fill="#666666"/>
<rect x="427.25" y="395" width="7" height="2" fill="#000"/>
<rect x="422.8" y="509.15" width="2" height="2.5" fill="#000"/>
<rect x="449.8" y="398.3" width="14.6" height="46.5" fill="#000"/>
<rect x="453.9" y="402.3" width="7.4" height="42.5" fill="#fff"/>
<rect x="449.8" y="452.2" width="14.6" height="56.3" fill="#000"/>
<rect x="453.9" y="452.2" width="7.4" height="56.3" fill="#fff"/>
<rect x="453.6" y="396.7" width="7" height="2" fill="#000"/>
<rect x="463.5" y="395.2" width="14.7" height="49.6" fill="#000"/>
<rect x="467.5" y="399.4" width="7" height="45.4" fill="#666666"/>
<rect x="463.5" y="452.2" width="14.7" height="56.3" fill="#000"/>
<rect x="467.5" y="452.2" width="7" height="56.3" fill="#666666"/>
<rect x="467.35" y="393.6" width="7" height="2" fill="#000"/>
<rect x="462.9" y="509.15" width="2" height="2.5" fill="#000"/>
<path d="M256.5,378.4 L270.1,378.4 L271.9,380.2 L271.9,385.1 L270.1,386.9 L256.5,386.9 L254.7,385.1 L254.7,380.2 Z" fill="#000"/>
<rect x="259.5" y="382" width="8" height="1" fill="#666"/>
<path d="M256.5,392.3 L270.1,392.3 L271.9,394.1 L271.9,399 L270.1,400.8 L256.5,400.8 L254.7,399 L254.7,394.1 Z" fill="#000"/>
<rect x="259.5" y="396" width="8" height="1" fill="#555"/>
<text x="279" y="386.6" font-size="11" font-family='"Liberation Serif", serif' fill="#2e2a2a" textLength="14.6" lengthAdjust="spacingAndGlyphs">CC</text>
<text x="279" y="400.6" font-size="11" font-family='"Liberation Serif", serif' fill="#2e2a2a" textLength="14.6" lengthAdjust="spacingAndGlyphs">GC</text>
<text x="245.4" y="447.6" font-size="9.5" font-family='"Liberation Serif", serif' fill="#2e2a2a" textLength="44.6" lengthAdjust="spacingAndGlyphs">P&lt;0.0001</text>
<text x="282" y="428.3" font-size="9.5" font-family='"Liberation Serif", serif' fill="#2e2a2a" textLength="46.3" lengthAdjust="spacingAndGlyphs">P=0.0008</text>
<text x="321.8" y="402.2" font-size="9.5" font-family='"Liberation Serif", serif' fill="#2e2a2a" textLength="44.9" lengthAdjust="spacingAndGlyphs">P&lt;0.0001</text>
<text x="364.2" y="392.6" font-size="9.5" font-family='"Liberation Serif", serif' fill="#2e2a2a" textLength="45.5" lengthAdjust="spacingAndGlyphs">P&lt;0.0001</text>
<text x="410.2" y="391" font-size="9.5" font-family='"Liberation Serif", serif' fill="#2e2a2a" textLength="40.6" lengthAdjust="spacingAndGlyphs">P=0.016</text>
<text x="448.9" y="384.2" font-size="9.5" font-family='"Liberation Serif", serif' fill="#2e2a2a" textLength="46" lengthAdjust="spacingAndGlyphs">P=0.0379</text>
<path d="M267.3,449.5L267.3,453.7M265.48,450.55L269.12,452.65M269.12,450.55L265.48,452.65" stroke="#444" stroke-width="0.9" stroke-linecap="round"/>
<path d="M272.5,449.5L272.5,453.7M270.68,450.55L274.32,452.65M274.32,450.55L270.68,452.65" stroke="#444" stroke-width="0.9" stroke-linecap="round"/>
<path d="M308.1,429.1L308.1,433.3M306.28,430.15L309.92,432.25M309.92,430.15L306.28,432.25" stroke="#444" stroke-width="0.9" stroke-linecap="round"/>
<path d="M313.3,429.1L313.3,433.3M311.48,430.15L315.12,432.25M315.12,430.15L311.48,432.25" stroke="#444" stroke-width="0.9" stroke-linecap="round"/>
<path d="M347.75,402.1L347.75,406.3M345.93,403.15L349.57,405.25M349.57,403.15L345.93,405.25" stroke="#444" stroke-width="0.9" stroke-linecap="round"/>
<path d="M352.95,402.1L352.95,406.3M351.13,403.15L354.77,405.25M354.77,403.15L351.13,405.25" stroke="#444" stroke-width="0.9" stroke-linecap="round"/>
<path d="M388.65,395.8L388.65,400M386.83,396.85L390.47,398.95M390.47,396.85L386.83,398.95" stroke="#444" stroke-width="0.9" stroke-linecap="round"/>
<path d="M393.85,395.8L393.85,400M392.03,396.85L395.67,398.95M395.67,396.85L392.03,398.95" stroke="#444" stroke-width="0.9" stroke-linecap="round"/>
<path d="M428.55,391.8L428.55,396M426.73,392.85L430.37,394.95M430.37,392.85L426.73,394.95" stroke="#444" stroke-width="0.9" stroke-linecap="round"/>
<path d="M433.75,391.8L433.75,396M431.93,392.85L435.57,394.95M435.57,392.85L431.93,394.95" stroke="#444" stroke-width="0.9" stroke-linecap="round"/>
<path d="M467.5,390.1L467.5,394.3M465.68,391.15L469.32,393.25M469.32,391.15L465.68,393.25" stroke="#444" stroke-width="0.9" stroke-linecap="round"/>
<path d="M472.7,390.1L472.7,394.3M470.88,391.15L474.52,393.25M474.52,391.15L470.88,393.25" stroke="#444" stroke-width="0.9" stroke-linecap="round"/>
<text transform="translate(219.8 447.6) rotate(-90)" font-size="11.5" font-family='"Liberation Serif", serif' font-weight="bold" fill="#1a1414" stroke="#1a1414" stroke-width="0.4" text-anchor="middle" textLength="118.5" lengthAdjust="spacingAndGlyphs">Average body weight (g)</text>
<text transform="translate(267 521.8) rotate(-38)" font-size="10.2" font-family='"Liberation Serif", serif' font-weight="bold" fill="#1a1414" stroke="#1a1414" stroke-width="0.4" text-anchor="end" textLength="54.68" lengthAdjust="spacingAndGlyphs">Brith weight</text>
<text transform="translate(307.1 521.8) rotate(-38)" font-size="10.2" font-family='"Liberation Serif", serif' font-weight="bold" fill="#1a1414" stroke="#1a1414" stroke-width="0.4" text-anchor="end" textLength="33.71" lengthAdjust="spacingAndGlyphs">3 weeks</text>
<text transform="translate(347.2 521.8) rotate(-38)" font-size="10.2" font-family='"Liberation Serif", serif' font-weight="bold" fill="#1a1414" stroke="#1a1414" stroke-width="0.4" text-anchor="end" textLength="33.71" lengthAdjust="spacingAndGlyphs">6 weeks</text>
<text transform="translate(387.3 521.8) rotate(-38)" font-size="10.2" font-family='"Liberation Serif", serif' font-weight="bold" fill="#1a1414" stroke="#1a1414" stroke-width="0.4" text-anchor="end" textLength="33.71" lengthAdjust="spacingAndGlyphs">8 weeks</text>
<text transform="translate(427.4 521.8) rotate(-38)" font-size="10.2" font-family='"Liberation Serif", serif' font-weight="bold" fill="#1a1414" stroke="#1a1414" stroke-width="0.4" text-anchor="end" textLength="38.81" lengthAdjust="spacingAndGlyphs">12 weeks</text>
<text transform="translate(467.5 521.8) rotate(-38)" font-size="10.2" font-family='"Liberation Serif", serif' font-weight="bold" fill="#1a1414" stroke="#1a1414" stroke-width="0.4" text-anchor="end" textLength="38.81" lengthAdjust="spacingAndGlyphs">16 weeks</text>
<text x="241.8" y="571.2" font-size="15" font-family='"Liberation Serif", serif' fill="#1a1414" textLength="43.1" lengthAdjust="spacingAndGlyphs">Male</text>
<text x="213.6" y="577.7" font-size="16" font-family='"Liberation Serif", serif' fill="#1a1414">i</text>
<rect x="241" y="585" width="2.8" height="54.5" fill="#000"/>
<rect x="241" y="645.4" width="2.8" height="54" fill="#000"/>
<rect x="238" y="637.5" width="3.5" height="2" fill="#000"/>
<text x="236.8" y="642.02" font-size="8.6" font-family='"Liberation Serif", serif' font-weight="bold" fill="#1a1414" stroke="#1a1414" stroke-width="0.4" text-anchor="end" textLength="10.2" lengthAdjust="spacingAndGlyphs">10</text>
<rect x="238" y="624.2" width="3.5" height="2" fill="#000"/>
<text x="236.8" y="628.72" font-size="8.6" font-family='"Liberation Serif", serif' font-weight="bold" fill="#1a1414" stroke="#1a1414" stroke-width="0.4" text-anchor="end" textLength="10.2" lengthAdjust="spacingAndGlyphs">20</text>
<rect x="238" y="610.9" width="3.5" height="2" fill="#000"/>
<text x="236.8" y="615.42" font-size="8.6" font-family='"Liberation Serif", serif' font-weight="bold" fill="#1a1414" stroke="#1a1414" stroke-width="0.4" text-anchor="end" textLength="10.2" lengthAdjust="spacingAndGlyphs">30</text>
<rect x="238" y="597.6" width="3.5" height="2" fill="#000"/>
<text x="236.8" y="602.12" font-size="8.6" font-family='"Liberation Serif", serif' font-weight="bold" fill="#1a1414" stroke="#1a1414" stroke-width="0.4" text-anchor="end" textLength="10.2" lengthAdjust="spacingAndGlyphs">40</text>
<rect x="238" y="584.3" width="3.5" height="2" fill="#000"/>
<text x="236.8" y="588.82" font-size="8.6" font-family='"Liberation Serif", serif' font-weight="bold" fill="#1a1414" stroke="#1a1414" stroke-width="0.4" text-anchor="end" textLength="10.2" lengthAdjust="spacingAndGlyphs">50</text>
<rect x="241" y="637.5" width="4.8" height="2" fill="#000"/>
<rect x="241" y="645.4" width="4.8" height="2" fill="#000"/>
<text x="236.2" y="702.32" font-size="8.6" font-family='"Liberation Serif", serif' font-weight="bold" fill="#1a1414" stroke="#1a1414" stroke-width="0.4" text-anchor="end">0</text>
<rect x="238" y="671.9" width="3.5" height="2" fill="#000"/>
<text x="236.2" y="675.82" font-size="8.6" font-family='"Liberation Serif", serif' font-weight="bold" fill="#1a1414" stroke="#1a1414" stroke-width="0.4" text-anchor="end">1</text>
<rect x="238" y="645.4" width="3.5" height="2" fill="#000"/>
<text x="236.2" y="649.32" font-size="8.6" font-family='"Liberation Serif", serif' font-weight="bold" fill="#1a1414" stroke="#1a1414" stroke-width="0.4" text-anchor="end">2</text>
<rect x="238.2" y="698.2" width="251.1" height="2.4" fill="#000"/>
<rect x="247.3" y="652.2" width="15.2" height="47.2" fill="#000"/>
<rect x="251.3" y="656.2" width="7.6" height="43.2" fill="#fff"/>
<rect x="251.4" y="650.6" width="7" height="2" fill="#000"/>
<rect x="262.1" y="650" width="14.8" height="49.4" fill="#000"/>
<rect x="265.1" y="653.9" width="7.8" height="45.5" fill="#666666"/>
<rect x="266" y="648.4" width="7" height="2" fill="#000"/>
<rect x="261.2" y="700.1" width="2" height="2.5" fill="#000"/>
<rect x="288.54" y="629.9" width="15.2" height="9.1" fill="#000"/>
<rect x="292.54" y="633.9" width="7.6" height="5.1" fill="#fff"/>
<rect x="288.54" y="645.9" width="15.2" height="53.5" fill="#000"/>
<rect x="292.54" y="645.9" width="7.6" height="53.5" fill="#fff"/>
<rect x="292.64" y="628.3" width="7" height="2" fill="#000"/>
<rect x="303.34" y="629.1" width="14.8" height="9.9" fill="#000"/>
<rect x="306.34" y="633" width="7.8" height="6" fill="#666666"/>
<rect x="303.34" y="645.9" width="14.8" height="53.5" fill="#000"/>
<rect x="306.34" y="645.9" width="7.8" height="53.5" fill="#666666"/>
<rect x="307.24" y="627.5" width="7" height="2" fill="#000"/>
<rect x="302.44" y="700.1" width="2" height="2.5" fill="#000"/>
<rect x="329.78" y="606.1" width="15.2" height="32.9" fill="#000"/>
<rect x="333.78" y="610.1" width="7.6" height="28.9" fill="#fff"/>
<rect x="329.78" y="645.9" width="15.2" height="53.5" fill="#000"/>
<rect x="333.78" y="645.9" width="7.6" height="53.5" fill="#fff"/>
<rect x="333.88" y="604.5" width="7" height="2" fill="#000"/>
<rect x="344.58" y="603.3" width="14.8" height="35.7" fill="#000"/>
<rect x="347.58" y="607.2" width="7.8" height="31.8" fill="#666666"/>
<rect x="344.58" y="645.9" width="14.8" height="53.5" fill="#000"/>
<rect x="347.58" y="645.9" width="7.8" height="53.5" fill="#666666"/>
<rect x="348.48" y="601.7" width="7" height="2" fill="#000"/>
<rect x="343.68" y="700.1" width="2" height="2.5" fill="#000"/>
<rect x="371.02" y="601" width="15.2" height="38" fill="#000"/>
<rect x="375.02" y="605" width="7.6" height="34" fill="#fff"/>
<rect x="371.02" y="645.9" width="15.2" height="53.5" fill="#000"/>
<rect x="375.02" y="645.9" width="7.6" height="53.5" fill="#fff"/>
<rect x="375.12" y="599.4" width="7" height="2" fill="#000"/>
<rect x="385.82" y="597.5" width="14.8" height="41.5" fill="#000"/>
<rect x="388.82" y="601.4" width="7.8" height="37.6" fill="#666666"/>
<rect x="385.82" y="645.9" width="14.8" height="53.5" fill="#000"/>
<rect x="388.82" y="645.9" width="7.8" height="53.5" fill="#666666"/>
<rect x="389.72" y="595.9" width="7" height="2" fill="#000"/>
<rect x="384.92" y="700.1" width="2" height="2.5" fill="#000"/>
<rect x="412.26" y="595.8" width="15.2" height="43.2" fill="#000"/>
<rect x="416.26" y="599.8" width="7.6" height="39.2" fill="#fff"/>
<rect x="412.26" y="645.9" width="15.2" height="53.5" fill="#000"/>
<rect x="416.26" y="645.9" width="7.6" height="53.5" fill="#fff"/>
<rect x="416.36" y="594.2" width="7" height="2" fill="#000"/>
<rect x="427.06" y="589.6" width="14.8" height="49.4" fill="#000"/>
<rect x="430.06" y="593.5" width="7.8" height="45.5" fill="#666666"/>
<rect x="427.06" y="645.9" width="14.8" height="53.5" fill="#000"/>
<rect x="430.06" y="645.9" width="7.8" height="53.5" fill="#666666"/>
<rect x="430.96" y="588" width="7" height="2" fill="#000"/>
<rect x="426.16" y="700.1" width="2" height="2.5" fill="#000"/>
<rect x="453.5" y="593.1" width="15.2" height="45.9" fill="#000"/>
<rect x="457.5" y="597.1" width="7.6" height="41.9" fill="#fff"/>
<rect x="453.5" y="645.9" width="15.2" height="53.5" fill="#000"/>
<rect x="457.5" y="645.9" width="7.6" height="53.5" fill="#fff"/>
<rect x="457.6" y="591.5" width="7" height="2" fill="#000"/>
<rect x="468.3" y="589.1" width="14.8" height="49.9" fill="#000"/>
<rect x="471.3" y="593" width="7.8" height="46" fill="#666666"/>
<rect x="468.3" y="645.9" width="14.8" height="53.5" fill="#000"/>
<rect x="471.3" y="645.9" width="7.8" height="53.5" fill="#666666"/>
<rect x="472.2" y="587.5" width="7" height="2" fill="#000"/>
<rect x="467.4" y="700.1" width="2" height="2.5" fill="#000"/>
<path d="M258,578.5 L271.6,578.5 L273.4,580.3 L273.4,584.9 L271.6,586.7 L258,586.7 L256.2,584.9 L256.2,580.3 Z" fill="#000"/>
<path d="M258,591.3 L271.6,591.3 L273.4,593.1 L273.4,597.6 L271.6,599.4 L258,599.4 L256.2,597.6 L256.2,593.1 Z" fill="#000"/>
<text x="280.7" y="586" font-size="10.5" font-family='"Liberation Serif", serif' fill="#2e2a2a" textLength="13.8" lengthAdjust="spacingAndGlyphs">CC</text>
<text x="280.7" y="598.6" font-size="10.5" font-family='"Liberation Serif", serif' fill="#2e2a2a" textLength="13.8" lengthAdjust="spacingAndGlyphs">GC</text>
<text x="245.4" y="644.4" font-size="9.5" font-family='"Liberation Serif", serif' fill="#2e2a2a" textLength="46" lengthAdjust="spacingAndGlyphs">P=0.0283</text>
<text x="279" y="622.1" font-size="9.5" font-family='"Liberation Serif", serif' fill="#2e2a2a" textLength="45.3" lengthAdjust="spacingAndGlyphs">P&lt;0.0001</text>
<text x="324.3" y="597.3" font-size="9.5" font-family='"Liberation Serif", serif' fill="#2e2a2a" textLength="45.3" lengthAdjust="spacingAndGlyphs">P=0.0301</text>
<path d="M307.2,623.2L307.2,627.4M305.38,624.25L309.02,626.35M309.02,624.25L305.38,626.35" stroke="#444" stroke-width="0.9" stroke-linecap="round"/>
<path d="M312.4,623.2L312.4,627.4M310.58,624.25L314.22,626.35M314.22,624.25L310.58,626.35" stroke="#444" stroke-width="0.9" stroke-linecap="round"/>
<path d="M352,595.9L352,600.1M350.18,596.95L353.82,599.05M353.82,596.95L350.18,599.05" stroke="#444" stroke-width="0.9" stroke-linecap="round"/>
<path d="M270,644.7L270,648.3M268.44,645.6L271.56,647.4M271.56,645.6L268.44,647.4" stroke="#555" stroke-width="0.9" stroke-linecap="round"/>
<text transform="translate(217.8 641) rotate(-90)" font-size="11.2" font-family='"Liberation Serif", serif' font-weight="bold" fill="#1a1414" stroke="#1a1414" stroke-width="0.4" text-anchor="middle" textLength="111.5" lengthAdjust="spacingAndGlyphs">Average body weight (g)</text>
<text transform="translate(265.8 711.2) rotate(-38)" font-size="10.2" font-family='"Liberation Serif", serif' font-weight="bold" fill="#1a1414" stroke="#1a1414" stroke-width="0.4" text-anchor="end" textLength="54.68" lengthAdjust="spacingAndGlyphs">Brith weight</text>
<text transform="translate(307.04 711.2) rotate(-38)" font-size="10.2" font-family='"Liberation Serif", serif' font-weight="bold" fill="#1a1414" stroke="#1a1414" stroke-width="0.4" text-anchor="end" textLength="33.71" lengthAdjust="spacingAndGlyphs">3 weeks</text>
<text transform="translate(348.28 711.2) rotate(-38)" font-size="10.2" font-family='"Liberation Serif", serif' font-weight="bold" fill="#1a1414" stroke="#1a1414" stroke-width="0.4" text-anchor="end" textLength="33.71" lengthAdjust="spacingAndGlyphs">6 weeks</text>
<text transform="translate(389.52 711.2) rotate(-38)" font-size="10.2" font-family='"Liberation Serif", serif' font-weight="bold" fill="#1a1414" stroke="#1a1414" stroke-width="0.4" text-anchor="end" textLength="33.71" lengthAdjust="spacingAndGlyphs">8 weeks</text>
<text transform="translate(430.76 711.2) rotate(-38)" font-size="10.2" font-family='"Liberation Serif", serif' font-weight="bold" fill="#1a1414" stroke="#1a1414" stroke-width="0.4" text-anchor="end" textLength="38.81" lengthAdjust="spacingAndGlyphs">12 weeks</text>
<text transform="translate(472 711.2) rotate(-38)" font-size="10.2" font-family='"Liberation Serif", serif' font-weight="bold" fill="#1a1414" stroke="#1a1414" stroke-width="0.4" text-anchor="end" textLength="38.81" lengthAdjust="spacingAndGlyphs">16 weeks</text>
<text x="483" y="10.8" font-size="16" font-family='"Liberation Serif", serif' fill="#1a1414" textLength="6.2" lengthAdjust="spacingAndGlyphs">e</text>
<text x="510.7" y="11.3" font-size="15" font-family='"Liberation Serif", serif' fill="#1a1414" textLength="67.1" lengthAdjust="spacingAndGlyphs">Female</text>
<rect x="509.25" y="18.3" width="2.7" height="128.25" fill="#000"/>
<rect x="507.25" y="143.85" width="170.55" height="2.7" fill="#000"/>
<rect x="506.65" y="143.85" width="3.1" height="2.7" fill="#000"/>
<text x="506.2" y="149.38" font-size="11" font-family='"Liberation Serif", serif' font-weight="bold" fill="#1a1414" stroke="#1a1414" stroke-width="0.4" text-anchor="end" textLength="5.2" lengthAdjust="spacingAndGlyphs">0</text>
<rect x="506.65" y="118.59" width="3.1" height="2.7" fill="#000"/>
<text x="506.2" y="124.12" font-size="11" font-family='"Liberation Serif", serif' font-weight="bold" fill="#1a1414" stroke="#1a1414" stroke-width="0.4" text-anchor="end" textLength="5.2" lengthAdjust="spacingAndGlyphs">5</text>
<rect x="506.65" y="93.33" width="3.1" height="2.7" fill="#000"/>
<text x="506.2" y="98.86" font-size="11" font-family='"Liberation Serif", serif' font-weight="bold" fill="#1a1414" stroke="#1a1414" stroke-width="0.4" text-anchor="end" textLength="10.4" lengthAdjust="spacingAndGlyphs">10</text>
<rect x="506.65" y="68.07" width="3.1" height="2.7" fill="#000"/>
<text x="506.2" y="73.6" font-size="11" font-family='"Liberation Serif", serif' font-weight="bold" fill="#1a1414" stroke="#1a1414" stroke-width="0.4" text-anchor="end" textLength="10.4" lengthAdjust="spacingAndGlyphs">15</text>
<rect x="506.65" y="42.81" width="3.1" height="2.7" fill="#000"/>
<text x="506.2" y="48.34" font-size="11" font-family='"Liberation Serif", serif' font-weight="bold" fill="#1a1414" stroke="#1a1414" stroke-width="0.4" text-anchor="end" textLength="10.4" lengthAdjust="spacingAndGlyphs">20</text>
<rect x="506.65" y="17.55" width="3.1" height="2.7" fill="#000"/>
<text x="506.2" y="23.09" font-size="11" font-family='"Liberation Serif", serif' font-weight="bold" fill="#1a1414" stroke="#1a1414" stroke-width="0.4" text-anchor="end" textLength="10.4" lengthAdjust="spacingAndGlyphs">25</text>
<rect x="525.55" y="146.05" width="3" height="3.5" fill="#000"/>
<rect x="558.9" y="146.05" width="3" height="3.5" fill="#000"/>
<rect x="592.3" y="146.05" width="3" height="3.5" fill="#000"/>
<rect x="625.5" y="146.05" width="3" height="3.5" fill="#000"/>
<rect x="658.9" y="146.05" width="3" height="3.5" fill="#000"/>
<text x="516.22" y="162" font-size="11.88" font-family='"Liberation Serif", serif' font-weight="bold" fill="#1a1414" stroke="#1a1414" stroke-width="0.4" textLength="21.66" lengthAdjust="spacingAndGlyphs">0min</text>
<text x="547.18" y="162" font-size="11.88" font-family='"Liberation Serif", serif' font-weight="bold" fill="#1a1414" stroke="#1a1414" stroke-width="0.4" textLength="26.43" lengthAdjust="spacingAndGlyphs">30min</text>
<text x="580.58" y="162" font-size="11.88" font-family='"Liberation Serif", serif' font-weight="bold" fill="#1a1414" stroke="#1a1414" stroke-width="0.4" textLength="26.43" lengthAdjust="spacingAndGlyphs">60min</text>
<text x="613.78" y="162" font-size="11.88" font-family='"Liberation Serif", serif' font-weight="bold" fill="#1a1414" stroke="#1a1414" stroke-width="0.4" textLength="26.43" lengthAdjust="spacingAndGlyphs">90min</text>
<text x="644.8" y="162" font-size="11.88" font-family='"Liberation Serif", serif' font-weight="bold" fill="#1a1414" stroke="#1a1414" stroke-width="0.4" textLength="31.2" lengthAdjust="spacingAndGlyphs">120min</text>
<polyline points="527.05,121.1 560.4,82.8 593.8,99.4 627,108.9 660.4,111.6" fill="none" stroke="#12f012" stroke-width="3.1" stroke-linejoin="round"/>
<polyline points="527.05,122.9 560.4,50.5 593.8,63.6 627,90.6 660.4,103.7" fill="none" stroke="#ff0606" stroke-width="3.8" stroke-linejoin="round"/>
<rect x="557.9" y="79.3" width="5" height="7.9" fill="#12f012"/>
<rect x="557.7" y="79.3" width="5.4" height="1.5" fill="#12f012"/>
<rect x="557.7" y="85.7" width="5.4" height="1.5" fill="#12f012"/>
<circle cx="527.05" cy="121.1" r="2.3" fill="#12f012"/>
<circle cx="560.4" cy="82.8" r="2.3" fill="#12f012"/>
<circle cx="593.8" cy="99.4" r="2.3" fill="#12f012"/>
<circle cx="627" cy="108.9" r="2.3" fill="#12f012"/>
<circle cx="660.4" cy="111.6" r="2.3" fill="#12f012"/>
<rect x="557.9" y="43.6" width="5" height="13" fill="#ff0606"/>
<rect x="557.7" y="43.6" width="5.4" height="1.5" fill="#ff0606"/>
<rect x="557.7" y="55.1" width="5.4" height="1.5" fill="#ff0606"/>
<rect x="591.3" y="54.9" width="5" height="16.6" fill="#ff0606"/>
<rect x="591.1" y="54.9" width="5.4" height="1.5" fill="#ff0606"/>
<rect x="591.1" y="70" width="5.4" height="1.5" fill="#ff0606"/>
<rect x="624.5" y="86.3" width="5" height="9.6" fill="#ff0606"/>
<rect x="624.3" y="86.3" width="5.4" height="1.5" fill="#ff0606"/>
<rect x="624.3" y="94.4" width="5.4" height="1.5" fill="#ff0606"/>
<rect x="524.35" y="120.2" width="5.4" height="5.4" fill="#ff0606"/>
<rect x="557.7" y="47.8" width="5.4" height="5.4" fill="#ff0606"/>
<rect x="591.1" y="60.9" width="5.4" height="5.4" fill="#ff0606"/>
<rect x="624.3" y="87.9" width="5.4" height="5.4" fill="#ff0606"/>
<rect x="657.7" y="101" width="5.4" height="5.4" fill="#ff0606"/>
<line x1="630.4" y1="27.9" x2="642.1" y2="27.9" stroke="#12f012" stroke-width="3.3" stroke-linecap="butt"/>
<circle cx="636.25" cy="27.9" r="2.8" fill="#12f012"/>
<line x1="630.4" y1="42.7" x2="642.1" y2="42.7" stroke="#ff0606" stroke-width="3.3" stroke-linecap="butt"/>
<rect x="633.45" y="39.9" width="5.6" height="5.6" fill="#ff0606"/>
<text x="649" y="32.4" font-size="10" font-family='"Liberation Serif", serif' fill="#2e2a2a" textLength="29.2" lengthAdjust="spacingAndGlyphs">NGDF1</text>
<text x="649" y="46.6" font-size="10" font-family='"Liberation Serif", serif' fill="#2e2a2a" textLength="22.7" lengthAdjust="spacingAndGlyphs">GDF1</text>
<text x="583.7" y="31.4" font-size="16" font-family='"Liberation Serif", serif' fill="#444" textLength="31" lengthAdjust="spacingAndGlyphs">GTT</text>
<text x="550" y="32.2" font-size="9" font-family='"Liberation Serif", serif' fill="#2e2a2a" textLength="26.6" lengthAdjust="spacingAndGlyphs">P=0.002</text>
<text x="584.6" y="47" font-size="9" font-family='"Liberation Serif", serif' fill="#2e2a2a" textLength="27" lengthAdjust="spacingAndGlyphs">P=0.002</text>
<text x="618.6" y="79.3" font-size="9" font-family='"Liberation Serif", serif' fill="#2e2a2a" textLength="30.4" lengthAdjust="spacingAndGlyphs">P=0.0002</text>
<path d="M557.15,39.8L557.15,43.8M555.42,40.8L558.88,42.8M558.88,40.8L555.42,42.8" stroke="#333" stroke-width="0.9" stroke-linecap="round"/>
<path d="M563.65,39.8L563.65,43.8M561.92,40.8L565.38,42.8M565.38,40.8L561.92,42.8" stroke="#333" stroke-width="0.9" stroke-linecap="round"/>
<path d="M590.75,49.5L590.75,53.5M589.02,50.5L592.48,52.5M592.48,50.5L589.02,52.5" stroke="#333" stroke-width="0.9" stroke-linecap="round"/>
<path d="M597.25,49.5L597.25,53.5M595.52,50.5L598.98,52.5M598.98,50.5L595.52,52.5" stroke="#333" stroke-width="0.9" stroke-linecap="round"/>
<path d="M623.75,81.5L623.75,85.5M622.02,82.5L625.48,84.5M625.48,82.5L622.02,84.5" stroke="#333" stroke-width="0.9" stroke-linecap="round"/>
<path d="M630.25,81.5L630.25,85.5M628.52,82.5L631.98,84.5M631.98,82.5L628.52,84.5" stroke="#333" stroke-width="0.9" stroke-linecap="round"/>
<text transform="translate(489.3 81.15) rotate(-90)" font-size="10.7" font-family='"Liberation Serif", serif' font-weight="bold" fill="#1a1414" stroke="#1a1414" stroke-width="0.4" text-anchor="middle" textLength="113.3" lengthAdjust="spacingAndGlyphs">Blood glucose (mM/L)</text>
<rect x="510.35" y="170.5" width="2.7" height="128.45" fill="#000"/>
<rect x="508.35" y="296.25" width="170.35" height="2.7" fill="#000"/>
<rect x="507.75" y="296.25" width="3.1" height="2.7" fill="#000"/>
<text x="507.5" y="301.79" font-size="11" font-family='"Liberation Serif", serif' font-weight="bold" fill="#1a1414" stroke="#1a1414" stroke-width="0.4" text-anchor="end" textLength="5.2" lengthAdjust="spacingAndGlyphs">0</text>
<rect x="507.75" y="271.1" width="3.1" height="2.7" fill="#000"/>
<text x="507.5" y="276.64" font-size="11" font-family='"Liberation Serif", serif' font-weight="bold" fill="#1a1414" stroke="#1a1414" stroke-width="0.4" text-anchor="end" textLength="5.2" lengthAdjust="spacingAndGlyphs">2</text>
<rect x="507.75" y="245.95" width="3.1" height="2.7" fill="#000"/>
<text x="507.5" y="251.49" font-size="11" font-family='"Liberation Serif", serif' font-weight="bold" fill="#1a1414" stroke="#1a1414" stroke-width="0.4" text-anchor="end" textLength="5.2" lengthAdjust="spacingAndGlyphs">4</text>
<rect x="507.75" y="220.8" width="3.1" height="2.7" fill="#000"/>
<text x="507.5" y="226.34" font-size="11" font-family='"Liberation Serif", serif' font-weight="bold" fill="#1a1414" stroke="#1a1414" stroke-width="0.4" text-anchor="end" textLength="5.2" lengthAdjust="spacingAndGlyphs">6</text>
<rect x="507.75" y="195.65" width="3.1" height="2.7" fill="#000"/>
<text x="507.5" y="201.19" font-size="11" font-family='"Liberation Serif", serif' font-weight="bold" fill="#1a1414" stroke="#1a1414" stroke-width="0.4" text-anchor="end" textLength="5.2" lengthAdjust="spacingAndGlyphs">8</text>
<rect x="507.75" y="170.5" width="3.1" height="2.7" fill="#000"/>
<text x="507.5" y="176.04" font-size="11" font-family='"Liberation Serif", serif' font-weight="bold" fill="#1a1414" stroke="#1a1414" stroke-width="0.4" text-anchor="end" textLength="10.4" lengthAdjust="spacingAndGlyphs">10</text>
<rect x="526.9" y="298.45" width="3" height="3.5" fill="#000"/>
<rect x="560" y="298.45" width="3" height="3.5" fill="#000"/>
<rect x="593.5" y="298.45" width="3" height="3.5" fill="#000"/>
<rect x="626.7" y="298.45" width="3" height="3.5" fill="#000"/>
<rect x="660.1" y="298.45" width="3" height="3.5" fill="#000"/>
<text x="517.57" y="313.6" font-size="11.88" font-family='"Liberation Serif", serif' font-weight="bold" fill="#1a1414" stroke="#1a1414" stroke-width="0.4" textLength="21.66" lengthAdjust="spacingAndGlyphs">0min</text>
<text x="548.28" y="313.6" font-size="11.88" font-family='"Liberation Serif", serif' font-weight="bold" fill="#1a1414" stroke="#1a1414" stroke-width="0.4" textLength="26.43" lengthAdjust="spacingAndGlyphs">30min</text>
<text x="581.78" y="313.6" font-size="11.88" font-family='"Liberation Serif", serif' font-weight="bold" fill="#1a1414" stroke="#1a1414" stroke-width="0.4" textLength="26.43" lengthAdjust="spacingAndGlyphs">60min</text>
<text x="614.98" y="313.6" font-size="11.88" font-family='"Liberation Serif", serif' font-weight="bold" fill="#1a1414" stroke="#1a1414" stroke-width="0.4" textLength="26.43" lengthAdjust="spacingAndGlyphs">90min</text>
<text x="646" y="313.6" font-size="11.88" font-family='"Liberation Serif", serif' font-weight="bold" fill="#1a1414" stroke="#1a1414" stroke-width="0.4" textLength="31.2" lengthAdjust="spacingAndGlyphs">120min</text>
<polyline points="528.4,227.1 561.5,265.8 595,271.6 628.2,271 661.6,266.7" fill="none" stroke="#12f012" stroke-width="3.1" stroke-linejoin="round"/>
<polyline points="528.4,194.9 561.5,228.9 595,252.4 628.2,255 661.6,252" fill="none" stroke="#ff0606" stroke-width="3.8" stroke-linejoin="round"/>
<rect x="525.9" y="221.9" width="5" height="9.6" fill="#12f012"/>
<rect x="525.7" y="221.9" width="5.4" height="1.5" fill="#12f012"/>
<rect x="525.7" y="230" width="5.4" height="1.5" fill="#12f012"/>
<rect x="659.1" y="261" width="5" height="11.4" fill="#12f012"/>
<rect x="658.9" y="261" width="5.4" height="1.5" fill="#12f012"/>
<rect x="658.9" y="270.9" width="5.4" height="1.5" fill="#12f012"/>
<circle cx="528.4" cy="227.1" r="2.3" fill="#12f012"/>
<circle cx="561.5" cy="265.8" r="2.3" fill="#12f012"/>
<circle cx="595" cy="271.6" r="2.3" fill="#12f012"/>
<circle cx="628.2" cy="271" r="2.3" fill="#12f012"/>
<circle cx="661.6" cy="266.7" r="2.3" fill="#12f012"/>
<rect x="525.9" y="188.8" width="5" height="11.3" fill="#ff0606"/>
<rect x="525.7" y="188.8" width="5.4" height="1.5" fill="#ff0606"/>
<rect x="525.7" y="198.6" width="5.4" height="1.5" fill="#ff0606"/>
<rect x="559" y="223.6" width="5" height="11.4" fill="#ff0606"/>
<rect x="558.8" y="223.6" width="5.4" height="1.5" fill="#ff0606"/>
<rect x="558.8" y="233.5" width="5.4" height="1.5" fill="#ff0606"/>
<rect x="592.5" y="247.2" width="5" height="10.4" fill="#ff0606"/>
<rect x="592.3" y="247.2" width="5.4" height="1.5" fill="#ff0606"/>
<rect x="592.3" y="256.1" width="5.4" height="1.5" fill="#ff0606"/>
<rect x="625.7" y="249.8" width="5" height="11.3" fill="#ff0606"/>
<rect x="625.5" y="249.8" width="5.4" height="1.5" fill="#ff0606"/>
<rect x="625.5" y="259.6" width="5.4" height="1.5" fill="#ff0606"/>
<rect x="659.1" y="245.4" width="5" height="13.1" fill="#ff0606"/>
<rect x="658.9" y="245.4" width="5.4" height="1.5" fill="#ff0606"/>
<rect x="658.9" y="257" width="5.4" height="1.5" fill="#ff0606"/>
<rect x="525.7" y="192.2" width="5.4" height="5.4" fill="#ff0606"/>
<rect x="558.8" y="226.2" width="5.4" height="5.4" fill="#ff0606"/>
<rect x="592.3" y="249.7" width="5.4" height="5.4" fill="#ff0606"/>
<rect x="625.5" y="252.3" width="5.4" height="5.4" fill="#ff0606"/>
<rect x="658.9" y="249.3" width="5.4" height="5.4" fill="#ff0606"/>
<line x1="622" y1="180.6" x2="633.9" y2="180.6" stroke="#12f012" stroke-width="3.3" stroke-linecap="butt"/>
<circle cx="627.95" cy="180.6" r="2.8" fill="#12f012"/>
<line x1="622" y1="194" x2="633.9" y2="194" stroke="#ff0606" stroke-width="3.3" stroke-linecap="butt"/>
<rect x="625.15" y="191.2" width="5.6" height="5.6" fill="#ff0606"/>
<text x="640.9" y="184.4" font-size="10" font-family='"Liberation Serif", serif' fill="#2e2a2a" textLength="29.1" lengthAdjust="spacingAndGlyphs">NGDF1</text>
<text x="640.9" y="197.9" font-size="10" font-family='"Liberation Serif", serif' fill="#2e2a2a" textLength="22.1" lengthAdjust="spacingAndGlyphs">GDF1</text>
<text x="582.8" y="193.5" font-size="16" font-family='"Liberation Serif", serif' fill="#222" textLength="23.6" lengthAdjust="spacingAndGlyphs">ITT</text>
<text x="520" y="181.6" font-size="9" font-family='"Liberation Serif", serif' fill="#2e2a2a" textLength="30.3" lengthAdjust="spacingAndGlyphs">P=0.0114</text>
<text x="554.3" y="214.6" font-size="9" font-family='"Liberation Serif", serif' fill="#2e2a2a" textLength="30.7" lengthAdjust="spacingAndGlyphs">P=0.0078</text>
<text x="582.3" y="235.1" font-size="9" font-family='"Liberation Serif", serif' fill="#2e2a2a" textLength="30.7" lengthAdjust="spacingAndGlyphs">P=0.0096</text>
<text x="616" y="240" font-size="9" font-family='"Liberation Serif", serif' fill="#2e2a2a" textLength="30.5" lengthAdjust="spacingAndGlyphs">P=0.0315</text>
<text x="650.8" y="236.2" font-size="9" font-family='"Liberation Serif", serif' fill="#2e2a2a" textLength="30.2" lengthAdjust="spacingAndGlyphs">P=0.0463</text>
<path d="M528.2,184L528.2,188M526.47,185L529.93,187M529.93,185L526.47,187" stroke="#333" stroke-width="0.9" stroke-linecap="round"/>
<path d="M557.75,217.5L557.75,221.5M556.02,218.5L559.48,220.5M559.48,218.5L556.02,220.5" stroke="#333" stroke-width="0.9" stroke-linecap="round"/>
<path d="M564.25,217.5L564.25,221.5M562.52,218.5L565.98,220.5M565.98,218.5L562.52,220.5" stroke="#333" stroke-width="0.9" stroke-linecap="round"/>
<path d="M591.35,241.5L591.35,245.5M589.62,242.5L593.08,244.5M593.08,242.5L589.62,244.5" stroke="#333" stroke-width="0.9" stroke-linecap="round"/>
<path d="M597.85,241.5L597.85,245.5M596.12,242.5L599.58,244.5M599.58,242.5L596.12,244.5" stroke="#333" stroke-width="0.9" stroke-linecap="round"/>
<path d="M628.2,245.4L628.2,249.4M626.47,246.4L629.93,248.4M629.93,246.4L626.47,248.4" stroke="#333" stroke-width="0.9" stroke-linecap="round"/>
<path d="M661.6,242L661.6,246M659.87,243L663.33,245M663.33,243L659.87,245" stroke="#333" stroke-width="0.9" stroke-linecap="round"/>
<text transform="translate(490.3 233.2) rotate(-90)" font-size="10.8" font-family='"Liberation Serif", serif' font-weight="bold" fill="#1a1414" stroke="#1a1414" stroke-width="0.4" text-anchor="middle" textLength="113.3" lengthAdjust="spacingAndGlyphs">Blood glucose (mM/L)</text>
<text x="5.9" y="374.5" font-size="16" font-family='"Liberation Serif", serif' fill="#1a1414" textLength="7" lengthAdjust="spacingAndGlyphs">f</text>
<text x="42.2" y="375.9" font-size="15" font-family='"Liberation Serif", serif' fill="#1a1414" textLength="47" lengthAdjust="spacingAndGlyphs">Male</text>
<rect x="32.05" y="384.9" width="2.9" height="125.95" fill="#000"/>
<rect x="30.05" y="507.95" width="163.45" height="2.9" fill="#000"/>
<rect x="29.45" y="508.05" width="3.1" height="2.7" fill="#000"/>
<text x="29.2" y="513.58" font-size="11" font-family='"Liberation Serif", serif' font-weight="bold" fill="#1a1414" stroke="#1a1414" stroke-width="0.4" text-anchor="end" textLength="5.2" lengthAdjust="spacingAndGlyphs">0</text>
<rect x="29.45" y="477.17" width="3.1" height="2.7" fill="#000"/>
<text x="29.2" y="482.71" font-size="11" font-family='"Liberation Serif", serif' font-weight="bold" fill="#1a1414" stroke="#1a1414" stroke-width="0.4" text-anchor="end" textLength="5.2" lengthAdjust="spacingAndGlyphs">5</text>
<rect x="29.45" y="446.3" width="3.1" height="2.7" fill="#000"/>
<text x="29.2" y="451.83" font-size="11" font-family='"Liberation Serif", serif' font-weight="bold" fill="#1a1414" stroke="#1a1414" stroke-width="0.4" text-anchor="end" textLength="10.4" lengthAdjust="spacingAndGlyphs">10</text>
<rect x="29.45" y="415.42" width="3.1" height="2.7" fill="#000"/>
<text x="29.2" y="420.96" font-size="11" font-family='"Liberation Serif", serif' font-weight="bold" fill="#1a1414" stroke="#1a1414" stroke-width="0.4" text-anchor="end" textLength="10.4" lengthAdjust="spacingAndGlyphs">15</text>
<rect x="29.45" y="384.55" width="3.1" height="2.7" fill="#000"/>
<text x="29.2" y="390.08" font-size="11" font-family='"Liberation Serif", serif' font-weight="bold" fill="#1a1414" stroke="#1a1414" stroke-width="0.4" text-anchor="end" textLength="10.4" lengthAdjust="spacingAndGlyphs">20</text>
<rect x="47.8" y="510.35" width="3" height="3.5" fill="#000"/>
<rect x="79.9" y="510.35" width="3" height="3.5" fill="#000"/>
<rect x="111.8" y="510.35" width="3" height="3.5" fill="#000"/>
<rect x="143.7" y="510.35" width="3" height="3.5" fill="#000"/>
<rect x="175.7" y="510.35" width="3" height="3.5" fill="#000"/>
<text x="38.88" y="525.3" font-size="11.88" font-family='"Liberation Serif", serif' font-weight="bold" fill="#1a1414" stroke="#1a1414" stroke-width="0.4" textLength="20.84" lengthAdjust="spacingAndGlyphs">0min</text>
<text x="68.69" y="525.3" font-size="11.88" font-family='"Liberation Serif", serif' font-weight="bold" fill="#1a1414" stroke="#1a1414" stroke-width="0.4" textLength="25.42" lengthAdjust="spacingAndGlyphs">30min</text>
<text x="100.59" y="525.3" font-size="11.88" font-family='"Liberation Serif", serif' font-weight="bold" fill="#1a1414" stroke="#1a1414" stroke-width="0.4" textLength="25.42" lengthAdjust="spacingAndGlyphs">60min</text>
<text x="132.49" y="525.3" font-size="11.88" font-family='"Liberation Serif", serif' font-weight="bold" fill="#1a1414" stroke="#1a1414" stroke-width="0.4" textLength="25.42" lengthAdjust="spacingAndGlyphs">90min</text>
<text x="162.2" y="525.3" font-size="11.88" font-family='"Liberation Serif", serif' font-weight="bold" fill="#1a1414" stroke="#1a1414" stroke-width="0.4" textLength="30" lengthAdjust="spacingAndGlyphs">120min</text>
<polyline points="49.3,482.4 81.4,421.6 113.3,446.2 145.2,458.5 177.2,464.6" fill="none" stroke="#12f012" stroke-width="3.1" stroke-linejoin="round"/>
<polyline points="49.3,482.4 81.4,427.5 113.3,442.7 145.2,460.2 177.2,465.5" fill="none" stroke="#ff0606" stroke-width="4" stroke-linejoin="round"/>
<rect x="78.9" y="408.8" width="5" height="18.2" fill="#12f012"/>
<rect x="78.7" y="408.8" width="5.4" height="1.5" fill="#12f012"/>
<rect x="78.7" y="425.5" width="5.4" height="1.5" fill="#12f012"/>
<rect x="110.8" y="440" width="5" height="13.2" fill="#12f012"/>
<rect x="110.6" y="440" width="5.4" height="1.5" fill="#12f012"/>
<rect x="110.6" y="451.7" width="5.4" height="1.5" fill="#12f012"/>
<rect x="142.7" y="452.3" width="5" height="13.2" fill="#12f012"/>
<rect x="142.5" y="452.3" width="5.4" height="1.5" fill="#12f012"/>
<rect x="142.5" y="464" width="5.4" height="1.5" fill="#12f012"/>
<rect x="174.7" y="460.2" width="5" height="10.5" fill="#12f012"/>
<rect x="174.5" y="460.2" width="5.4" height="1.5" fill="#12f012"/>
<rect x="174.5" y="469.2" width="5.4" height="1.5" fill="#12f012"/>
<circle cx="49.3" cy="482.4" r="2.3" fill="#12f012"/>
<circle cx="81.4" cy="421.6" r="2.3" fill="#12f012"/>
<circle cx="113.3" cy="446.2" r="2.3" fill="#12f012"/>
<circle cx="145.2" cy="458.5" r="2.3" fill="#12f012"/>
<circle cx="177.2" cy="464.6" r="2.3" fill="#12f012"/>
<rect x="78.9" y="417.6" width="5" height="14.8" fill="#ff0606"/>
<rect x="78.7" y="417.6" width="5.4" height="1.5" fill="#ff0606"/>
<rect x="78.7" y="430.9" width="5.4" height="1.5" fill="#ff0606"/>
<rect x="110.8" y="434.8" width="5" height="14" fill="#ff0606"/>
<rect x="110.6" y="434.8" width="5.4" height="1.5" fill="#ff0606"/>
<rect x="110.6" y="447.3" width="5.4" height="1.5" fill="#ff0606"/>
<rect x="46.6" y="479.7" width="5.4" height="5.4" fill="#ff0606"/>
<rect x="78.7" y="424.8" width="5.4" height="5.4" fill="#ff0606"/>
<rect x="110.6" y="440" width="5.4" height="5.4" fill="#ff0606"/>
<rect x="142.5" y="457.5" width="5.4" height="5.4" fill="#ff0606"/>
<rect x="174.5" y="462.8" width="5.4" height="5.4" fill="#ff0606"/>
<line x1="144.8" y1="394.2" x2="155.7" y2="394.2" stroke="#12f012" stroke-width="3.3" stroke-linecap="butt"/>
<circle cx="150.25" cy="394.2" r="2.8" fill="#12f012"/>
<line x1="144.8" y1="408.2" x2="155.7" y2="408.2" stroke="#ff0606" stroke-width="3.3" stroke-linecap="butt"/>
<rect x="147.45" y="405.4" width="5.6" height="5.6" fill="#ff0606"/>
<text x="162.3" y="397.7" font-size="9.5" font-family='"Liberation Serif", serif' fill="#2e2a2a" textLength="28.4" lengthAdjust="spacingAndGlyphs">NGDF1</text>
<text x="162.3" y="411.7" font-size="9.5" font-family='"Liberation Serif", serif' fill="#2e2a2a" textLength="21.4" lengthAdjust="spacingAndGlyphs">GDF1</text>
<text x="86.1" y="402.4" font-size="16" font-family='"Liberation Serif", serif' fill="#444" textLength="29.8" lengthAdjust="spacingAndGlyphs">GTT</text>
<text transform="translate(12.9 445.9) rotate(-90)" font-size="10.4" font-family='"Liberation Serif", serif' font-weight="bold" fill="#1a1414" stroke="#1a1414" stroke-width="0.4" text-anchor="middle" textLength="111.8" lengthAdjust="spacingAndGlyphs">Blood glucose (mM/L)</text>
<rect x="29.9" y="562.2" width="3" height="126.1" fill="#000"/>
<rect x="27.9" y="685.3" width="166" height="3" fill="#000"/>
<rect x="27.3" y="685.45" width="3.1" height="2.7" fill="#000"/>
<text x="27.4" y="690.98" font-size="11" font-family='"Liberation Serif", serif' font-weight="bold" fill="#1a1414" stroke="#1a1414" stroke-width="0.4" text-anchor="end" textLength="5.1" lengthAdjust="spacingAndGlyphs">0</text>
<rect x="27.3" y="660.8" width="3.1" height="2.7" fill="#000"/>
<text x="27.4" y="666.33" font-size="11" font-family='"Liberation Serif", serif' font-weight="bold" fill="#1a1414" stroke="#1a1414" stroke-width="0.4" text-anchor="end" textLength="5.1" lengthAdjust="spacingAndGlyphs">2</text>
<rect x="27.3" y="636.15" width="3.1" height="2.7" fill="#000"/>
<text x="27.4" y="641.68" font-size="11" font-family='"Liberation Serif", serif' font-weight="bold" fill="#1a1414" stroke="#1a1414" stroke-width="0.4" text-anchor="end" textLength="5.1" lengthAdjust="spacingAndGlyphs">4</text>
<rect x="27.3" y="611.5" width="3.1" height="2.7" fill="#000"/>
<text x="27.4" y="617.03" font-size="11" font-family='"Liberation Serif", serif' font-weight="bold" fill="#1a1414" stroke="#1a1414" stroke-width="0.4" text-anchor="end" textLength="5.1" lengthAdjust="spacingAndGlyphs">6</text>
<rect x="27.3" y="586.85" width="3.1" height="2.7" fill="#000"/>
<text x="27.4" y="592.38" font-size="11" font-family='"Liberation Serif", serif' font-weight="bold" fill="#1a1414" stroke="#1a1414" stroke-width="0.4" text-anchor="end" textLength="5.1" lengthAdjust="spacingAndGlyphs">8</text>
<rect x="27.3" y="562.2" width="3.1" height="2.7" fill="#000"/>
<text x="27.4" y="567.73" font-size="11" font-family='"Liberation Serif", serif' font-weight="bold" fill="#1a1414" stroke="#1a1414" stroke-width="0.4" text-anchor="end" textLength="10.2" lengthAdjust="spacingAndGlyphs">10</text>
<rect x="46" y="687.8" width="3" height="3.5" fill="#000"/>
<rect x="78.3" y="687.8" width="3" height="3.5" fill="#000"/>
<rect x="110.5" y="687.8" width="3" height="3.5" fill="#000"/>
<rect x="143" y="687.8" width="3" height="3.5" fill="#000"/>
<rect x="175.7" y="687.8" width="3" height="3.5" fill="#000"/>
<text x="36.74" y="702.8" font-size="11.88" font-family='"Liberation Serif", serif' font-weight="bold" fill="#1a1414" stroke="#1a1414" stroke-width="0.4" textLength="21.53" lengthAdjust="spacingAndGlyphs">0min</text>
<text x="66.67" y="702.8" font-size="11.88" font-family='"Liberation Serif", serif' font-weight="bold" fill="#1a1414" stroke="#1a1414" stroke-width="0.4" textLength="26.26" lengthAdjust="spacingAndGlyphs">30min</text>
<text x="98.87" y="702.8" font-size="11.88" font-family='"Liberation Serif", serif' font-weight="bold" fill="#1a1414" stroke="#1a1414" stroke-width="0.4" textLength="26.26" lengthAdjust="spacingAndGlyphs">60min</text>
<text x="131.37" y="702.8" font-size="11.88" font-family='"Liberation Serif", serif' font-weight="bold" fill="#1a1414" stroke="#1a1414" stroke-width="0.4" textLength="26.26" lengthAdjust="spacingAndGlyphs">90min</text>
<text x="161.7" y="702.8" font-size="11.88" font-family='"Liberation Serif", serif' font-weight="bold" fill="#1a1414" stroke="#1a1414" stroke-width="0.4" textLength="31" lengthAdjust="spacingAndGlyphs">120min</text>
<polyline points="47.5,592.7 79.8,637.7 112,656 144.5,656 177.2,650.7" fill="none" stroke="#12f012" stroke-width="3.1" stroke-linejoin="round"/>
<polyline points="47.5,592.7 79.8,635.4 112,650.7 144.5,654.2 177.2,646.4" fill="none" stroke="#ff0606" stroke-width="4" stroke-linejoin="round"/>
<rect x="109.5" y="652.5" width="5" height="8.7" fill="#12f012"/>
<rect x="109.3" y="652.5" width="5.4" height="1.5" fill="#12f012"/>
<rect x="109.3" y="659.7" width="5.4" height="1.5" fill="#12f012"/>
<rect x="142" y="651" width="5" height="9" fill="#12f012"/>
<rect x="141.8" y="651" width="5.4" height="1.5" fill="#12f012"/>
<rect x="141.8" y="658.5" width="5.4" height="1.5" fill="#12f012"/>
<circle cx="47.5" cy="592.7" r="2.3" fill="#12f012"/>
<circle cx="79.8" cy="637.7" r="2.3" fill="#12f012"/>
<circle cx="112" cy="656" r="2.3" fill="#12f012"/>
<circle cx="144.5" cy="656" r="2.3" fill="#12f012"/>
<circle cx="177.2" cy="650.7" r="2.3" fill="#12f012"/>
<rect x="45" y="584.9" width="5" height="16.5" fill="#ff0606"/>
<rect x="44.8" y="584.9" width="5.4" height="1.5" fill="#ff0606"/>
<rect x="44.8" y="599.9" width="5.4" height="1.5" fill="#ff0606"/>
<rect x="77.3" y="632" width="5" height="7" fill="#ff0606"/>
<rect x="77.1" y="632" width="5.4" height="1.5" fill="#ff0606"/>
<rect x="77.1" y="637.5" width="5.4" height="1.5" fill="#ff0606"/>
<rect x="142" y="649" width="5" height="11.4" fill="#ff0606"/>
<rect x="141.8" y="649" width="5.4" height="1.5" fill="#ff0606"/>
<rect x="141.8" y="658.9" width="5.4" height="1.5" fill="#ff0606"/>
<rect x="174.7" y="639.3" width="5" height="14.9" fill="#ff0606"/>
<rect x="174.5" y="639.3" width="5.4" height="1.5" fill="#ff0606"/>
<rect x="174.5" y="652.7" width="5.4" height="1.5" fill="#ff0606"/>
<rect x="44.8" y="590" width="5.4" height="5.4" fill="#ff0606"/>
<rect x="77.1" y="632.7" width="5.4" height="5.4" fill="#ff0606"/>
<rect x="109.3" y="648" width="5.4" height="5.4" fill="#ff0606"/>
<rect x="141.8" y="651.5" width="5.4" height="5.4" fill="#ff0606"/>
<rect x="174.5" y="643.7" width="5.4" height="5.4" fill="#ff0606"/>
<line x1="142.2" y1="571.9" x2="153.2" y2="571.9" stroke="#12f012" stroke-width="3.3" stroke-linecap="butt"/>
<circle cx="147.7" cy="571.9" r="2.8" fill="#12f012"/>
<line x1="142.2" y1="586.4" x2="153.2" y2="586.4" stroke="#ff0606" stroke-width="3.3" stroke-linecap="butt"/>
<rect x="144.9" y="583.6" width="5.6" height="5.6" fill="#ff0606"/>
<text x="160.2" y="575.5" font-size="9.5" font-family='"Liberation Serif", serif' fill="#2e2a2a" textLength="28.4" lengthAdjust="spacingAndGlyphs">NGDF1</text>
<text x="160.2" y="590" font-size="9.5" font-family='"Liberation Serif", serif' fill="#2e2a2a" textLength="21.8" lengthAdjust="spacingAndGlyphs">GDF1</text>
<text x="94.9" y="606" font-size="16" font-family='"Liberation Serif", serif' fill="#222" textLength="24" lengthAdjust="spacingAndGlyphs">ITT</text>
<text transform="translate(10.9 623.6) rotate(-90)" font-size="10.6" font-family='"Liberation Serif", serif' font-weight="bold" fill="#1a1414" stroke="#1a1414" stroke-width="0.4" text-anchor="middle" textLength="115" lengthAdjust="spacingAndGlyphs">Blood glucose(mmol/L)</text>
<text x="217.3" y="760.3" font-size="16" font-family='"Liberation Serif", serif' fill="#1a1414" textLength="6.2" lengthAdjust="spacingAndGlyphs">j</text>
<text x="247.2" y="751.5" font-size="15" font-family='"Liberation Serif", serif' fill="#1a1414" textLength="53.2" lengthAdjust="spacingAndGlyphs">Female</text>
<rect x="245.4" y="760.3" width="3" height="137.9" fill="#000"/>
<rect x="243.4" y="895.2" width="184.3" height="3" fill="#000"/>
<rect x="242.8" y="895.35" width="3.1" height="2.7" fill="#000"/>
<text x="242.2" y="901.22" font-size="12" font-family='"Liberation Serif", serif' font-weight="bold" fill="#1a1414" stroke="#1a1414" stroke-width="0.4" text-anchor="end" textLength="5.8" lengthAdjust="spacingAndGlyphs">0</text>
<rect x="242.8" y="861.55" width="3.1" height="2.7" fill="#000"/>
<text x="242.2" y="867.42" font-size="12" font-family='"Liberation Serif", serif' font-weight="bold" fill="#1a1414" stroke="#1a1414" stroke-width="0.4" text-anchor="end" textLength="5.8" lengthAdjust="spacingAndGlyphs">5</text>
<rect x="242.8" y="827.75" width="3.1" height="2.7" fill="#000"/>
<text x="242.2" y="833.62" font-size="12" font-family='"Liberation Serif", serif' font-weight="bold" fill="#1a1414" stroke="#1a1414" stroke-width="0.4" text-anchor="end" textLength="11.6" lengthAdjust="spacingAndGlyphs">10</text>
<rect x="242.8" y="793.95" width="3.1" height="2.7" fill="#000"/>
<text x="242.2" y="799.82" font-size="12" font-family='"Liberation Serif", serif' font-weight="bold" fill="#1a1414" stroke="#1a1414" stroke-width="0.4" text-anchor="end" textLength="11.6" lengthAdjust="spacingAndGlyphs">15</text>
<rect x="242.8" y="760.15" width="3.1" height="2.7" fill="#000"/>
<text x="242.2" y="766.02" font-size="12" font-family='"Liberation Serif", serif' font-weight="bold" fill="#1a1414" stroke="#1a1414" stroke-width="0.4" text-anchor="end" textLength="11.6" lengthAdjust="spacingAndGlyphs">20</text>
<rect x="263.3" y="897.7" width="3" height="3.5" fill="#000"/>
<rect x="298.9" y="897.7" width="3" height="3.5" fill="#000"/>
<rect x="335.3" y="897.7" width="3" height="3.5" fill="#000"/>
<rect x="371.1" y="897.7" width="3" height="3.5" fill="#000"/>
<rect x="407.2" y="897.7" width="3" height="3.5" fill="#000"/>
<text x="252.84" y="914" font-size="12.42" font-family='"Liberation Serif", serif' font-weight="bold" fill="#1a1414" stroke="#1a1414" stroke-width="0.4" textLength="23.92" lengthAdjust="spacingAndGlyphs">0min</text>
<text x="285.79" y="914" font-size="12.42" font-family='"Liberation Serif", serif' font-weight="bold" fill="#1a1414" stroke="#1a1414" stroke-width="0.4" textLength="29.21" lengthAdjust="spacingAndGlyphs">30min</text>
<text x="322.19" y="914" font-size="12.42" font-family='"Liberation Serif", serif' font-weight="bold" fill="#1a1414" stroke="#1a1414" stroke-width="0.4" textLength="29.21" lengthAdjust="spacingAndGlyphs">60min</text>
<text x="357.99" y="914" font-size="12.42" font-family='"Liberation Serif", serif' font-weight="bold" fill="#1a1414" stroke="#1a1414" stroke-width="0.4" textLength="29.21" lengthAdjust="spacingAndGlyphs">90min</text>
<text x="391.45" y="914" font-size="12.42" font-family='"Liberation Serif", serif' font-weight="bold" fill="#1a1414" stroke="#1a1414" stroke-width="0.4" textLength="34.5" lengthAdjust="spacingAndGlyphs">120min</text>
<polyline points="264.8,863.1 300.4,811.9 336.8,834.4 372.6,847.3 408.7,851.4" fill="none" stroke="#12f012" stroke-width="3.1" stroke-linejoin="round"/>
<polyline points="264.8,869.3 300.4,786.3 336.8,803.8 372.6,826.9 408.7,834.4" fill="none" stroke="#ff0606" stroke-width="3.8" stroke-linejoin="round"/>
<rect x="297.9" y="806.8" width="5" height="9.2" fill="#12f012"/>
<rect x="297.7" y="806.8" width="5.4" height="1.5" fill="#12f012"/>
<rect x="297.7" y="814.5" width="5.4" height="1.5" fill="#12f012"/>
<circle cx="264.8" cy="863.1" r="2.3" fill="#12f012"/>
<circle cx="300.4" cy="811.9" r="2.3" fill="#12f012"/>
<circle cx="336.8" cy="834.4" r="2.3" fill="#12f012"/>
<circle cx="372.6" cy="847.3" r="2.3" fill="#12f012"/>
<circle cx="408.7" cy="851.4" r="2.3" fill="#12f012"/>
<rect x="297.9" y="773" width="5" height="23.6" fill="#ff0606"/>
<rect x="297.7" y="773" width="5.4" height="1.5" fill="#ff0606"/>
<rect x="297.7" y="795.1" width="5.4" height="1.5" fill="#ff0606"/>
<rect x="334.3" y="794.2" width="5" height="20.4" fill="#ff0606"/>
<rect x="334.1" y="794.2" width="5.4" height="1.5" fill="#ff0606"/>
<rect x="334.1" y="813.1" width="5.4" height="1.5" fill="#ff0606"/>
<rect x="370.1" y="818.7" width="5" height="16.3" fill="#ff0606"/>
<rect x="369.9" y="818.7" width="5.4" height="1.5" fill="#ff0606"/>
<rect x="369.9" y="833.5" width="5.4" height="1.5" fill="#ff0606"/>
<rect x="406.2" y="826.9" width="5" height="15.3" fill="#ff0606"/>
<rect x="406" y="826.9" width="5.4" height="1.5" fill="#ff0606"/>
<rect x="406" y="840.7" width="5.4" height="1.5" fill="#ff0606"/>
<rect x="262.1" y="866.6" width="5.4" height="5.4" fill="#ff0606"/>
<rect x="297.7" y="783.6" width="5.4" height="5.4" fill="#ff0606"/>
<rect x="334.1" y="801.1" width="5.4" height="5.4" fill="#ff0606"/>
<rect x="369.9" y="824.2" width="5.4" height="5.4" fill="#ff0606"/>
<rect x="406" y="831.7" width="5.4" height="5.4" fill="#ff0606"/>
<line x1="391" y1="771.1" x2="403.2" y2="771.1" stroke="#12f012" stroke-width="3.3" stroke-linecap="butt"/>
<circle cx="397.1" cy="771.1" r="2.8" fill="#12f012"/>
<line x1="391" y1="786.6" x2="403.2" y2="786.6" stroke="#ff0606" stroke-width="3.3" stroke-linecap="butt"/>
<rect x="394.3" y="783.8" width="5.6" height="5.6" fill="#ff0606"/>
<text x="410.4" y="775.2" font-size="11" font-family='"Liberation Serif", serif' fill="#2e2a2a" textLength="13.2" lengthAdjust="spacingAndGlyphs">CC</text>
<text x="410.4" y="790.7" font-size="11" font-family='"Liberation Serif", serif' fill="#2e2a2a" textLength="13.2" lengthAdjust="spacingAndGlyphs">GC</text>
<text x="338.4" y="772.3" font-size="16" font-family='"Liberation Serif", serif' fill="#444" textLength="30.7" lengthAdjust="spacingAndGlyphs">GTT</text>
<text x="278.9" y="764.2" font-size="9.5" font-family='"Liberation Serif", serif' fill="#2e2a2a" textLength="42.6" lengthAdjust="spacingAndGlyphs">P=0.0268</text>
<text x="313.3" y="787.6" font-size="9.5" font-family='"Liberation Serif", serif' fill="#2e2a2a" textLength="41.5" lengthAdjust="spacingAndGlyphs">P=0.0069</text>
<text x="347.4" y="812.6" font-size="9.5" font-family='"Liberation Serif", serif' fill="#2e2a2a" textLength="42.1" lengthAdjust="spacingAndGlyphs">P=0.0149</text>
<text x="388.3" y="821.2" font-size="9.5" font-family='"Liberation Serif", serif' fill="#2e2a2a" textLength="41.5" lengthAdjust="spacingAndGlyphs">P=0.0436</text>
<path d="M300.4,768.4L300.4,772.4M298.67,769.4L302.13,771.4M302.13,769.4L298.67,771.4" stroke="#333" stroke-width="0.9" stroke-linecap="round"/>
<path d="M336.8,789.4L336.8,793.4M335.07,790.4L338.53,792.4M338.53,790.4L335.07,792.4" stroke="#333" stroke-width="0.9" stroke-linecap="round"/>
<path d="M372.6,814.8L372.6,818.8M370.87,815.8L374.33,817.8M374.33,815.8L370.87,817.8" stroke="#333" stroke-width="0.9" stroke-linecap="round"/>
<path d="M408.7,822.4L408.7,826.4M406.97,823.4L410.43,825.4M410.43,823.4L406.97,825.4" stroke="#333" stroke-width="0.9" stroke-linecap="round"/>
<text transform="translate(223.8 827.4) rotate(-90)" font-size="9.2" font-family='"Liberation Serif", serif' font-weight="bold" fill="#1a1414" stroke="#1a1414" stroke-width="0.4" text-anchor="middle" textLength="111.6" lengthAdjust="spacingAndGlyphs">Blood glucose (mM/L)</text>
<text x="495" y="368.9" font-size="16" font-family='"Liberation Serif", serif' fill="#1a1414">k</text>
<text x="527.2" y="372.6" font-size="15" font-family='"Liberation Serif", serif' fill="#1a1414" textLength="45.4" lengthAdjust="spacingAndGlyphs">Male</text>
<rect x="522.05" y="373.5" width="2.9" height="133.85" fill="#000"/>
<rect x="520.05" y="504.45" width="158.45" height="2.9" fill="#000"/>
<rect x="519.45" y="504.55" width="3.1" height="2.7" fill="#000"/>
<text x="519.3" y="510.42" font-size="12" font-family='"Liberation Serif", serif' fill="#1a1414" text-anchor="end" textLength="4.9" lengthAdjust="spacingAndGlyphs">0</text>
<rect x="519.45" y="471.85" width="3.1" height="2.7" fill="#000"/>
<text x="519.3" y="477.72" font-size="12" font-family='"Liberation Serif", serif' fill="#1a1414" text-anchor="end" textLength="4.9" lengthAdjust="spacingAndGlyphs">5</text>
<rect x="519.45" y="439.15" width="3.1" height="2.7" fill="#000"/>
<text x="519.3" y="445.02" font-size="12" font-family='"Liberation Serif", serif' fill="#1a1414" text-anchor="end" textLength="9.8" lengthAdjust="spacingAndGlyphs">10</text>
<rect x="519.45" y="406.45" width="3.1" height="2.7" fill="#000"/>
<text x="519.3" y="412.32" font-size="12" font-family='"Liberation Serif", serif' fill="#1a1414" text-anchor="end" textLength="9.8" lengthAdjust="spacingAndGlyphs">15</text>
<rect x="519.45" y="373.75" width="3.1" height="2.7" fill="#000"/>
<text x="519.3" y="379.62" font-size="12" font-family='"Liberation Serif", serif' fill="#1a1414" text-anchor="end" textLength="9.8" lengthAdjust="spacingAndGlyphs">20</text>
<rect x="537.2" y="506.85" width="3" height="3.5" fill="#000"/>
<rect x="568" y="506.85" width="3" height="3.5" fill="#000"/>
<rect x="599.2" y="506.85" width="3" height="3.5" fill="#000"/>
<rect x="630.4" y="506.85" width="3" height="3.5" fill="#000"/>
<rect x="661.3" y="506.85" width="3" height="3.5" fill="#000"/>
<text x="528.45" y="522.4" font-size="11.88" font-family='"Liberation Serif", serif' font-weight="bold" fill="#1a1414" stroke="#1a1414" stroke-width="0.4" textLength="20.5" lengthAdjust="spacingAndGlyphs">0min</text>
<text x="557" y="522.4" font-size="11.88" font-family='"Liberation Serif", serif' font-weight="bold" fill="#1a1414" stroke="#1a1414" stroke-width="0.4" textLength="25" lengthAdjust="spacingAndGlyphs">30min</text>
<text x="588.2" y="522.4" font-size="11.88" font-family='"Liberation Serif", serif' font-weight="bold" fill="#1a1414" stroke="#1a1414" stroke-width="0.4" textLength="25" lengthAdjust="spacingAndGlyphs">60min</text>
<text x="619.4" y="522.4" font-size="11.88" font-family='"Liberation Serif", serif' font-weight="bold" fill="#1a1414" stroke="#1a1414" stroke-width="0.4" textLength="25" lengthAdjust="spacingAndGlyphs">90min</text>
<text x="648.05" y="522.4" font-size="11.88" font-family='"Liberation Serif", serif' font-weight="bold" fill="#1a1414" stroke="#1a1414" stroke-width="0.4" textLength="29.5" lengthAdjust="spacingAndGlyphs">120min</text>
<polyline points="538.7,477.2 569.5,411.5 600.7,439.3 631.9,453.1 662.8,459.6" fill="none" stroke="#12f012" stroke-width="3.1" stroke-linejoin="round"/>
<polyline points="538.7,477.2 569.5,398.5 600.7,413.9 631.9,440.2 662.8,445.7" fill="none" stroke="#ff0606" stroke-width="3.8" stroke-linejoin="round"/>
<rect x="567" y="406.9" width="5" height="11.1" fill="#12f012"/>
<rect x="566.8" y="406.9" width="5.4" height="1.5" fill="#12f012"/>
<rect x="566.8" y="416.5" width="5.4" height="1.5" fill="#12f012"/>
<rect x="598.2" y="430.9" width="5" height="16.7" fill="#12f012"/>
<rect x="598" y="430.9" width="5.4" height="1.5" fill="#12f012"/>
<rect x="598" y="446.1" width="5.4" height="1.5" fill="#12f012"/>
<rect x="629.4" y="448.5" width="5" height="11.1" fill="#12f012"/>
<rect x="629.2" y="448.5" width="5.4" height="1.5" fill="#12f012"/>
<rect x="629.2" y="458.1" width="5.4" height="1.5" fill="#12f012"/>
<rect x="660.3" y="455.9" width="5" height="8.4" fill="#12f012"/>
<rect x="660.1" y="455.9" width="5.4" height="1.5" fill="#12f012"/>
<rect x="660.1" y="462.8" width="5.4" height="1.5" fill="#12f012"/>
<circle cx="538.7" cy="477.2" r="2.3" fill="#12f012"/>
<circle cx="569.5" cy="411.5" r="2.3" fill="#12f012"/>
<circle cx="600.7" cy="439.3" r="2.3" fill="#12f012"/>
<circle cx="631.9" cy="453.1" r="2.3" fill="#12f012"/>
<circle cx="662.8" cy="459.6" r="2.3" fill="#12f012"/>
<rect x="567" y="389.3" width="5" height="16.6" fill="#ff0606"/>
<rect x="566.8" y="389.3" width="5.4" height="1.5" fill="#ff0606"/>
<rect x="566.8" y="404.4" width="5.4" height="1.5" fill="#ff0606"/>
<rect x="598.2" y="406.9" width="5" height="15.7" fill="#ff0606"/>
<rect x="598" y="406.9" width="5.4" height="1.5" fill="#ff0606"/>
<rect x="598" y="421.1" width="5.4" height="1.5" fill="#ff0606"/>
<rect x="629.4" y="430.9" width="5" height="18.5" fill="#ff0606"/>
<rect x="629.2" y="430.9" width="5.4" height="1.5" fill="#ff0606"/>
<rect x="629.2" y="447.9" width="5.4" height="1.5" fill="#ff0606"/>
<rect x="660.3" y="436.5" width="5" height="19.4" fill="#ff0606"/>
<rect x="660.1" y="436.5" width="5.4" height="1.5" fill="#ff0606"/>
<rect x="660.1" y="454.4" width="5.4" height="1.5" fill="#ff0606"/>
<rect x="536" y="474.5" width="5.4" height="5.4" fill="#ff0606"/>
<rect x="566.8" y="395.8" width="5.4" height="5.4" fill="#ff0606"/>
<rect x="598" y="411.2" width="5.4" height="5.4" fill="#ff0606"/>
<rect x="629.2" y="437.5" width="5.4" height="5.4" fill="#ff0606"/>
<rect x="660.1" y="443" width="5.4" height="5.4" fill="#ff0606"/>
<line x1="644.3" y1="384.3" x2="655.4" y2="384.3" stroke="#12f012" stroke-width="3.3" stroke-linecap="butt"/>
<circle cx="649.85" cy="384.3" r="2.8" fill="#12f012"/>
<line x1="644.3" y1="399.4" x2="655.4" y2="399.4" stroke="#ff0606" stroke-width="3.3" stroke-linecap="butt"/>
<rect x="647.05" y="396.6" width="5.6" height="5.6" fill="#ff0606"/>
<text x="661.5" y="388" font-size="10" font-family='"Liberation Serif", serif' fill="#2e2a2a" textLength="11.5" lengthAdjust="spacingAndGlyphs">CC</text>
<text x="661.5" y="403.1" font-size="10" font-family='"Liberation Serif", serif' fill="#2e2a2a" textLength="11.5" lengthAdjust="spacingAndGlyphs">GC</text>
<text x="583.1" y="379.4" font-size="16" font-family='"Liberation Serif", serif' fill="#444" textLength="30.6" lengthAdjust="spacingAndGlyphs">GTT</text>
<text x="579.4" y="400" font-size="9.5" font-family='"Liberation Sans", sans-serif' fill="#2e2a2a" textLength="39.9" lengthAdjust="spacingAndGlyphs">p=0.01232</text>
<path d="M600.7,402.6L600.7,406.2M599.14,403.5L602.26,405.3M602.26,403.5L599.14,405.3" stroke="#333" stroke-width="0.9" stroke-linecap="round"/>
<text transform="translate(503.2 439.1) rotate(-90)" font-size="9.6" font-family='"Liberation Serif", serif' font-weight="bold" fill="#1a1414" stroke="#1a1414" stroke-width="0.4" text-anchor="middle" textLength="116" lengthAdjust="spacingAndGlyphs">Blood glucose (mM/L)</text>
<rect x="519.35" y="565.2" width="2.7" height="135.15" fill="#000"/>
<rect x="517.35" y="697.65" width="167.65" height="2.7" fill="#000"/>
<rect x="516.75" y="697.65" width="3.1" height="2.7" fill="#000"/>
<text x="516" y="703.45" font-size="11.8" font-family='"Liberation Serif", serif' font-weight="bold" fill="#1a1414" stroke="#1a1414" stroke-width="0.4" text-anchor="end" textLength="4.8" lengthAdjust="spacingAndGlyphs">0</text>
<rect x="516.75" y="671.25" width="3.1" height="2.7" fill="#000"/>
<text x="516" y="677.05" font-size="11.8" font-family='"Liberation Serif", serif' font-weight="bold" fill="#1a1414" stroke="#1a1414" stroke-width="0.4" text-anchor="end" textLength="4.8" lengthAdjust="spacingAndGlyphs">2</text>
<rect x="516.75" y="644.85" width="3.1" height="2.7" fill="#000"/>
<text x="516" y="650.65" font-size="11.8" font-family='"Liberation Serif", serif' font-weight="bold" fill="#1a1414" stroke="#1a1414" stroke-width="0.4" text-anchor="end" textLength="4.8" lengthAdjust="spacingAndGlyphs">4</text>
<rect x="516.75" y="618.45" width="3.1" height="2.7" fill="#000"/>
<text x="516" y="624.25" font-size="11.8" font-family='"Liberation Serif", serif' font-weight="bold" fill="#1a1414" stroke="#1a1414" stroke-width="0.4" text-anchor="end" textLength="4.8" lengthAdjust="spacingAndGlyphs">6</text>
<rect x="516.75" y="592.05" width="3.1" height="2.7" fill="#000"/>
<text x="516" y="597.85" font-size="11.8" font-family='"Liberation Serif", serif' font-weight="bold" fill="#1a1414" stroke="#1a1414" stroke-width="0.4" text-anchor="end" textLength="4.8" lengthAdjust="spacingAndGlyphs">8</text>
<rect x="516.75" y="565.65" width="3.1" height="2.7" fill="#000"/>
<text x="516" y="571.45" font-size="11.8" font-family='"Liberation Serif", serif' font-weight="bold" fill="#1a1414" stroke="#1a1414" stroke-width="0.4" text-anchor="end" textLength="9.6" lengthAdjust="spacingAndGlyphs">10</text>
<rect x="535.4" y="699.85" width="3" height="3.5" fill="#000"/>
<rect x="568.1" y="699.85" width="3" height="3.5" fill="#000"/>
<rect x="601.1" y="699.85" width="3" height="3.5" fill="#000"/>
<rect x="633.5" y="699.85" width="3" height="3.5" fill="#000"/>
<rect x="666.8" y="699.85" width="3" height="3.5" fill="#000"/>
<text x="525.62" y="716" font-size="11.88" font-family='"Liberation Serif", serif' font-weight="bold" fill="#1a1414" stroke="#1a1414" stroke-width="0.4" textLength="22.55" lengthAdjust="spacingAndGlyphs">0min</text>
<text x="555.84" y="716" font-size="11.88" font-family='"Liberation Serif", serif' font-weight="bold" fill="#1a1414" stroke="#1a1414" stroke-width="0.4" textLength="27.53" lengthAdjust="spacingAndGlyphs">30min</text>
<text x="588.84" y="716" font-size="11.88" font-family='"Liberation Serif", serif' font-weight="bold" fill="#1a1414" stroke="#1a1414" stroke-width="0.4" textLength="27.53" lengthAdjust="spacingAndGlyphs">60min</text>
<text x="621.24" y="716" font-size="11.88" font-family='"Liberation Serif", serif' font-weight="bold" fill="#1a1414" stroke="#1a1414" stroke-width="0.4" textLength="27.53" lengthAdjust="spacingAndGlyphs">90min</text>
<text x="652.05" y="716" font-size="11.88" font-family='"Liberation Serif", serif' font-weight="bold" fill="#1a1414" stroke="#1a1414" stroke-width="0.4" textLength="32.5" lengthAdjust="spacingAndGlyphs">120min</text>
<polyline points="536.9,593 569.6,646.7 602.6,665.2 635,665.2 668.3,659.6" fill="none" stroke="#12f012" stroke-width="3.1" stroke-linejoin="round"/>
<polyline points="536.9,600.4 569.6,649.4 602.6,661.5 635,666.1 668.3,666.1" fill="none" stroke="#ff0606" stroke-width="3.8" stroke-linejoin="round"/>
<rect x="534.4" y="590" width="5" height="7" fill="#12f012"/>
<rect x="534.2" y="590" width="5.4" height="1.5" fill="#12f012"/>
<rect x="534.2" y="595.5" width="5.4" height="1.5" fill="#12f012"/>
<rect x="600.1" y="659" width="5" height="12.7" fill="#12f012"/>
<rect x="599.9" y="659" width="5.4" height="1.5" fill="#12f012"/>
<rect x="599.9" y="670.2" width="5.4" height="1.5" fill="#12f012"/>
<rect x="665.8" y="654" width="5" height="10" fill="#12f012"/>
<rect x="665.6" y="654" width="5.4" height="1.5" fill="#12f012"/>
<rect x="665.6" y="662.5" width="5.4" height="1.5" fill="#12f012"/>
<circle cx="536.9" cy="593" r="2.3" fill="#12f012"/>
<circle cx="569.6" cy="646.7" r="2.3" fill="#12f012"/>
<circle cx="602.6" cy="665.2" r="2.3" fill="#12f012"/>
<circle cx="635" cy="665.2" r="2.3" fill="#12f012"/>
<circle cx="668.3" cy="659.6" r="2.3" fill="#12f012"/>
<rect x="534.4" y="596.7" width="5" height="8.3" fill="#ff0606"/>
<rect x="534.2" y="596.7" width="5.4" height="1.5" fill="#ff0606"/>
<rect x="534.2" y="603.5" width="5.4" height="1.5" fill="#ff0606"/>
<rect x="600.1" y="655.9" width="5" height="11.1" fill="#ff0606"/>
<rect x="599.9" y="655.9" width="5.4" height="1.5" fill="#ff0606"/>
<rect x="599.9" y="665.5" width="5.4" height="1.5" fill="#ff0606"/>
<rect x="632.5" y="661.5" width="5" height="11.1" fill="#ff0606"/>
<rect x="632.3" y="661.5" width="5.4" height="1.5" fill="#ff0606"/>
<rect x="632.3" y="671.1" width="5.4" height="1.5" fill="#ff0606"/>
<rect x="665.8" y="661.5" width="5" height="10.2" fill="#ff0606"/>
<rect x="665.6" y="661.5" width="5.4" height="1.5" fill="#ff0606"/>
<rect x="665.6" y="670.2" width="5.4" height="1.5" fill="#ff0606"/>
<rect x="534.2" y="597.7" width="5.4" height="5.4" fill="#ff0606"/>
<rect x="566.9" y="646.7" width="5.4" height="5.4" fill="#ff0606"/>
<rect x="599.9" y="658.8" width="5.4" height="5.4" fill="#ff0606"/>
<rect x="632.3" y="663.4" width="5.4" height="5.4" fill="#ff0606"/>
<rect x="665.6" y="663.4" width="5.4" height="5.4" fill="#ff0606"/>
<line x1="629.4" y1="588.7" x2="641.1" y2="588.7" stroke="#12f012" stroke-width="3.3" stroke-linecap="butt"/>
<circle cx="635.25" cy="588.7" r="2.8" fill="#12f012"/>
<line x1="629.4" y1="603.5" x2="641.1" y2="603.5" stroke="#ff0606" stroke-width="3.3" stroke-linecap="butt"/>
<rect x="632.45" y="600.7" width="5.6" height="5.6" fill="#ff0606"/>
<text x="648" y="592.6" font-size="10" font-family='"Liberation Serif", serif' fill="#2e2a2a" textLength="11" lengthAdjust="spacingAndGlyphs">CC</text>
<text x="648" y="607.6" font-size="10" font-family='"Liberation Serif", serif' fill="#2e2a2a" textLength="11" lengthAdjust="spacingAndGlyphs">GC</text>
<text x="582.6" y="587.4" font-size="16" font-family='"Liberation Serif", serif' fill="#222" textLength="23.7" lengthAdjust="spacingAndGlyphs">ITT</text>
<text transform="translate(499.6 631.2) rotate(-90)" font-size="10.3" font-family='"Liberation Serif", serif' font-weight="bold" fill="#1a1414" stroke="#1a1414" stroke-width="0.4" text-anchor="middle" textLength="119.2" lengthAdjust="spacingAndGlyphs">Blood glucose (mM/L)</text>
<rect x="507.2" y="755.9" width="2.8" height="138.5" fill="#000"/>
<rect x="505.2" y="891.6" width="177.1" height="2.8" fill="#000"/>
<rect x="504.6" y="891.65" width="3.1" height="2.7" fill="#000"/>
<text x="504" y="897.35" font-size="11.5" font-family='"Liberation Serif", serif' font-weight="bold" fill="#1a1414" stroke="#1a1414" stroke-width="0.4" text-anchor="end" textLength="5.6" lengthAdjust="spacingAndGlyphs">0</text>
<rect x="504.6" y="864.45" width="3.1" height="2.7" fill="#000"/>
<text x="504" y="870.15" font-size="11.5" font-family='"Liberation Serif", serif' font-weight="bold" fill="#1a1414" stroke="#1a1414" stroke-width="0.4" text-anchor="end" textLength="5.6" lengthAdjust="spacingAndGlyphs">2</text>
<rect x="504.6" y="837.25" width="3.1" height="2.7" fill="#000"/>
<text x="504" y="842.95" font-size="11.5" font-family='"Liberation Serif", serif' font-weight="bold" fill="#1a1414" stroke="#1a1414" stroke-width="0.4" text-anchor="end" textLength="5.6" lengthAdjust="spacingAndGlyphs">4</text>
<rect x="504.6" y="810.05" width="3.1" height="2.7" fill="#000"/>
<text x="504" y="815.75" font-size="11.5" font-family='"Liberation Serif", serif' font-weight="bold" fill="#1a1414" stroke="#1a1414" stroke-width="0.4" text-anchor="end" textLength="5.6" lengthAdjust="spacingAndGlyphs">6</text>
<rect x="504.6" y="782.85" width="3.1" height="2.7" fill="#000"/>
<text x="504" y="788.55" font-size="11.5" font-family='"Liberation Serif", serif' font-weight="bold" fill="#1a1414" stroke="#1a1414" stroke-width="0.4" text-anchor="end" textLength="5.6" lengthAdjust="spacingAndGlyphs">8</text>
<rect x="504.6" y="755.65" width="3.1" height="2.7" fill="#000"/>
<text x="504" y="761.35" font-size="11.5" font-family='"Liberation Serif", serif' font-weight="bold" fill="#1a1414" stroke="#1a1414" stroke-width="0.4" text-anchor="end" textLength="11.2" lengthAdjust="spacingAndGlyphs">10</text>
<rect x="524.6" y="893.9" width="3" height="3.5" fill="#000"/>
<rect x="558.7" y="893.9" width="3" height="3.5" fill="#000"/>
<rect x="593.5" y="893.9" width="3" height="3.5" fill="#000"/>
<rect x="628.1" y="893.9" width="3" height="3.5" fill="#000"/>
<rect x="662.8" y="893.9" width="3" height="3.5" fill="#000"/>
<text x="514.89" y="910.5" font-size="12.42" font-family='"Liberation Serif", serif' font-weight="bold" fill="#1a1414" stroke="#1a1414" stroke-width="0.4" textLength="22.42" lengthAdjust="spacingAndGlyphs">0min</text>
<text x="546.52" y="910.5" font-size="12.42" font-family='"Liberation Serif", serif' font-weight="bold" fill="#1a1414" stroke="#1a1414" stroke-width="0.4" textLength="27.36" lengthAdjust="spacingAndGlyphs">30min</text>
<text x="581.32" y="910.5" font-size="12.42" font-family='"Liberation Serif", serif' font-weight="bold" fill="#1a1414" stroke="#1a1414" stroke-width="0.4" textLength="27.36" lengthAdjust="spacingAndGlyphs">60min</text>
<text x="615.92" y="910.5" font-size="12.42" font-family='"Liberation Serif", serif' font-weight="bold" fill="#1a1414" stroke="#1a1414" stroke-width="0.4" textLength="27.36" lengthAdjust="spacingAndGlyphs">90min</text>
<text x="648.15" y="910.5" font-size="12.42" font-family='"Liberation Serif", serif' font-weight="bold" fill="#1a1414" stroke="#1a1414" stroke-width="0.4" textLength="32.3" lengthAdjust="spacingAndGlyphs">120min</text>
<polyline points="526.1,817.5 560.2,859.2 595,865 629.6,864.5 664.3,861.2" fill="none" stroke="#12f012" stroke-width="3.1" stroke-linejoin="round"/>
<polyline points="526.1,789.4 560.2,840.4 595,847.6 629.6,855.4 664.3,854.4" fill="none" stroke="#ff0606" stroke-width="3.8" stroke-linejoin="round"/>
<rect x="523.6" y="811.7" width="5" height="10.7" fill="#12f012"/>
<rect x="523.4" y="811.7" width="5.4" height="1.5" fill="#12f012"/>
<rect x="523.4" y="820.9" width="5.4" height="1.5" fill="#12f012"/>
<rect x="661.8" y="857" width="5" height="9" fill="#12f012"/>
<rect x="661.6" y="857" width="5.4" height="1.5" fill="#12f012"/>
<rect x="661.6" y="864.5" width="5.4" height="1.5" fill="#12f012"/>
<circle cx="526.1" cy="817.5" r="2.3" fill="#12f012"/>
<circle cx="560.2" cy="859.2" r="2.3" fill="#12f012"/>
<circle cx="595" cy="865" r="2.3" fill="#12f012"/>
<circle cx="629.6" cy="864.5" r="2.3" fill="#12f012"/>
<circle cx="664.3" cy="861.2" r="2.3" fill="#12f012"/>
<rect x="627.1" y="850.5" width="5" height="9.7" fill="#ff0606"/>
<rect x="626.9" y="850.5" width="5.4" height="1.5" fill="#ff0606"/>
<rect x="626.9" y="858.7" width="5.4" height="1.5" fill="#ff0606"/>
<rect x="661.8" y="849.5" width="5" height="9.7" fill="#ff0606"/>
<rect x="661.6" y="849.5" width="5.4" height="1.5" fill="#ff0606"/>
<rect x="661.6" y="857.7" width="5.4" height="1.5" fill="#ff0606"/>
<rect x="523.4" y="786.7" width="5.4" height="5.4" fill="#ff0606"/>
<rect x="557.5" y="837.7" width="5.4" height="5.4" fill="#ff0606"/>
<rect x="592.3" y="844.9" width="5.4" height="5.4" fill="#ff0606"/>
<rect x="626.9" y="852.7" width="5.4" height="5.4" fill="#ff0606"/>
<rect x="661.6" y="851.7" width="5.4" height="5.4" fill="#ff0606"/>
<line x1="648.4" y1="775.9" x2="660.4" y2="775.9" stroke="#12f012" stroke-width="3.3" stroke-linecap="butt"/>
<circle cx="654.4" cy="775.9" r="2.8" fill="#12f012"/>
<line x1="648.4" y1="791.4" x2="660.4" y2="791.4" stroke="#ff0606" stroke-width="3.3" stroke-linecap="butt"/>
<rect x="651.6" y="788.6" width="5.6" height="5.6" fill="#ff0606"/>
<text x="666.8" y="780" font-size="11" font-family='"Liberation Serif", serif' fill="#2e2a2a" textLength="13" lengthAdjust="spacingAndGlyphs">CC</text>
<text x="666.8" y="795.5" font-size="11" font-family='"Liberation Serif", serif' fill="#2e2a2a" textLength="13" lengthAdjust="spacingAndGlyphs">GC</text>
<text x="583.4" y="774.9" font-size="16" font-family='"Liberation Serif", serif' fill="#222" textLength="23.9" lengthAdjust="spacingAndGlyphs">ITT</text>
<text x="512.3" y="773.6" font-size="10" font-family='"Liberation Serif", serif' fill="#2e2a2a" textLength="39.1" lengthAdjust="spacingAndGlyphs">P=0.0018</text>
<text x="546.6" y="816.3" font-size="10" font-family='"Liberation Serif", serif' fill="#2e2a2a" textLength="38.2" lengthAdjust="spacingAndGlyphs">P=0.0051</text>
<text x="570.4" y="832.4" font-size="10" font-family='"Liberation Serif", serif' fill="#2e2a2a" textLength="39.6" lengthAdjust="spacingAndGlyphs">P=0.0012</text>
<text x="611.5" y="840.5" font-size="10" font-family='"Liberation Serif", serif' fill="#2e2a2a" textLength="39.4" lengthAdjust="spacingAndGlyphs">P=0.0320</text>
<path d="M525.8,781.4L525.8,785.4M524.07,782.4L527.53,784.4M527.53,782.4L524.07,784.4" stroke="#333" stroke-width="0.9" stroke-linecap="round"/>
<path d="M560.2,833.4L560.2,837.4M558.47,834.4L561.93,836.4M561.93,834.4L558.47,836.4" stroke="#333" stroke-width="0.9" stroke-linecap="round"/>
<path d="M595,839.2L595,843.2M593.27,840.2L596.73,842.2M596.73,840.2L593.27,842.2" stroke="#333" stroke-width="0.9" stroke-linecap="round"/>
<path d="M629.6,846L629.6,850M627.87,847L631.33,849M631.33,847L627.87,849" stroke="#333" stroke-width="0.9" stroke-linecap="round"/>
<text transform="translate(486.8 823.5) rotate(-90)" font-size="11.5" font-family='"Liberation Serif", serif' font-weight="bold" fill="#1a1414" stroke="#1a1414" stroke-width="0.4" text-anchor="middle" textLength="122.5" lengthAdjust="spacingAndGlyphs">Blood glucose (mM/L)</text>
</svg>
</body></html>
